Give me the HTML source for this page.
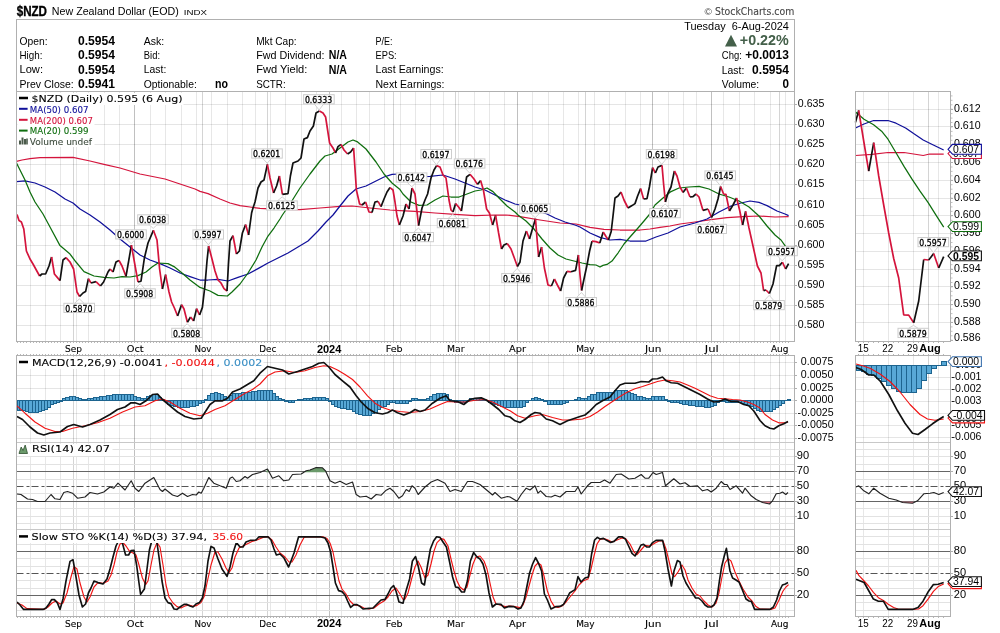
<!DOCTYPE html>
<html lang="en"><head><meta charset="utf-8"><title>$NZD New Zealand Dollar (EOD) - StockCharts.com</title>
<style>html,body{margin:0;padding:0;background:#fff}body{width:1000px;height:633px;overflow:hidden}svg{display:block;will-change:transform}</style></head>
<body>
<svg width="1000" height="633" viewBox="0 0 1000 633" shape-rendering="geometricPrecision">
<rect width="1000" height="633" fill="#fff"/>
<text x="16.70" y="15.60" font-family='"Liberation Sans", Arial, Helvetica, sans-serif' font-size="13.8" font-weight="bold" textLength="30.30" lengthAdjust="spacingAndGlyphs" stroke="#000" stroke-width="0.35">$NZD</text>
<text x="51.80" y="15.00" font-family='"Liberation Sans", Arial, Helvetica, sans-serif' font-size="10.67" textLength="127.00" lengthAdjust="spacingAndGlyphs">New Zealand Dollar (EOD)</text>
<text x="183.80" y="15.00" font-family='"Liberation Sans", Arial, Helvetica, sans-serif' font-size="8" textLength="23.20" lengthAdjust="spacingAndGlyphs">INDX</text>
<text x="704.60" y="14.60" font-family='"Liberation Sans", Arial, Helvetica, sans-serif' font-size="9.5" fill="#444" textLength="7.40" lengthAdjust="spacingAndGlyphs">©</text>
<text x="715.00" y="14.60" font-family='"DejaVu Sans", Verdana, "Liberation Sans", sans-serif' font-size="10" fill="#444" stroke="#444" stroke-width="0.1" textLength="79.30" lengthAdjust="spacingAndGlyphs">StockCharts.com</text>
<rect x="16.5" y="19.5" width="778.0" height="72" fill="#fff" stroke="#b0b0b0"/>
<text x="19.50" y="44.60" font-family='"Liberation Sans", Arial, Helvetica, sans-serif' font-size="10.67" textLength="28.00" lengthAdjust="spacingAndGlyphs">Open:</text>
<text x="78.00" y="44.90" font-family='"Liberation Sans", Arial, Helvetica, sans-serif' font-size="12" font-weight="bold" textLength="37.00" lengthAdjust="spacingAndGlyphs">0.5954</text>
<text x="143.80" y="44.60" font-family='"Liberation Sans", Arial, Helvetica, sans-serif' font-size="10.67" textLength="20.50" lengthAdjust="spacingAndGlyphs">Ask:</text>
<text x="256.20" y="44.60" font-family='"Liberation Sans", Arial, Helvetica, sans-serif' font-size="10.67" textLength="40.50" lengthAdjust="spacingAndGlyphs">Mkt Cap:</text>
<text x="375.50" y="44.60" font-family='"Liberation Sans", Arial, Helvetica, sans-serif' font-size="10.67" textLength="17.00" lengthAdjust="spacingAndGlyphs">P/E:</text>
<text x="19.50" y="58.90" font-family='"Liberation Sans", Arial, Helvetica, sans-serif' font-size="10.67" textLength="23.00" lengthAdjust="spacingAndGlyphs">High:</text>
<text x="78.00" y="59.20" font-family='"Liberation Sans", Arial, Helvetica, sans-serif' font-size="12" font-weight="bold" textLength="37.00" lengthAdjust="spacingAndGlyphs">0.5954</text>
<text x="143.80" y="58.90" font-family='"Liberation Sans", Arial, Helvetica, sans-serif' font-size="10.67" textLength="16.20" lengthAdjust="spacingAndGlyphs">Bid:</text>
<text x="256.20" y="58.90" font-family='"Liberation Sans", Arial, Helvetica, sans-serif' font-size="10.67" textLength="68.20" lengthAdjust="spacingAndGlyphs">Fwd Dividend:</text>
<text x="375.50" y="58.90" font-family='"Liberation Sans", Arial, Helvetica, sans-serif' font-size="10.67" textLength="21.20" lengthAdjust="spacingAndGlyphs">EPS:</text>
<text x="19.50" y="73.20" font-family='"Liberation Sans", Arial, Helvetica, sans-serif' font-size="10.67" textLength="23.50" lengthAdjust="spacingAndGlyphs">Low:</text>
<text x="78.00" y="73.50" font-family='"Liberation Sans", Arial, Helvetica, sans-serif' font-size="12" font-weight="bold" textLength="37.00" lengthAdjust="spacingAndGlyphs">0.5954</text>
<text x="143.80" y="73.20" font-family='"Liberation Sans", Arial, Helvetica, sans-serif' font-size="10.67" textLength="22.50" lengthAdjust="spacingAndGlyphs">Last:</text>
<text x="256.20" y="73.20" font-family='"Liberation Sans", Arial, Helvetica, sans-serif' font-size="10.67" textLength="51.20" lengthAdjust="spacingAndGlyphs">Fwd Yield:</text>
<text x="375.50" y="73.20" font-family='"Liberation Sans", Arial, Helvetica, sans-serif' font-size="10.67" textLength="68.20" lengthAdjust="spacingAndGlyphs">Last Earnings:</text>
<text x="19.50" y="87.50" font-family='"Liberation Sans", Arial, Helvetica, sans-serif' font-size="10.67" textLength="54.20" lengthAdjust="spacingAndGlyphs">Prev Close:</text>
<text x="78.00" y="87.80" font-family='"Liberation Sans", Arial, Helvetica, sans-serif' font-size="12" font-weight="bold" textLength="37.00" lengthAdjust="spacingAndGlyphs">0.5941</text>
<text x="143.80" y="87.50" font-family='"Liberation Sans", Arial, Helvetica, sans-serif' font-size="10.67" textLength="53.00" lengthAdjust="spacingAndGlyphs">Optionable:</text>
<text x="256.20" y="87.50" font-family='"Liberation Sans", Arial, Helvetica, sans-serif' font-size="10.67" textLength="29.50" lengthAdjust="spacingAndGlyphs">SCTR:</text>
<text x="375.50" y="87.50" font-family='"Liberation Sans", Arial, Helvetica, sans-serif' font-size="10.67" textLength="69.00" lengthAdjust="spacingAndGlyphs">Next Earnings:</text>
<text x="215.00" y="87.80" font-family='"Liberation Sans", Arial, Helvetica, sans-serif' font-size="12" font-weight="bold" textLength="13.00" lengthAdjust="spacingAndGlyphs">no</text>
<text x="328.80" y="59.20" font-family='"Liberation Sans", Arial, Helvetica, sans-serif' font-size="12" font-weight="bold" textLength="18.20" lengthAdjust="spacingAndGlyphs">N/A</text>
<text x="328.80" y="73.50" font-family='"Liberation Sans", Arial, Helvetica, sans-serif' font-size="12" font-weight="bold" textLength="18.20" lengthAdjust="spacingAndGlyphs">N/A</text>
<text x="684.20" y="29.60" font-family='"Liberation Sans", Arial, Helvetica, sans-serif' font-size="11" textLength="104.70" lengthAdjust="spacingAndGlyphs" style="white-space:pre">Tuesday  6-Aug-2024</text>
<polygon points="725,46.5 731,34.8 737,46.5" fill="#44604a"/>
<text x="739.80" y="45.20" font-family='"Liberation Sans", Arial, Helvetica, sans-serif' font-size="14.3" font-weight="bold" fill="#44604a" textLength="49.00" lengthAdjust="spacingAndGlyphs">+0.22%</text>
<text x="721.80" y="58.80" font-family='"Liberation Sans", Arial, Helvetica, sans-serif' font-size="10.67" textLength="20.00" lengthAdjust="spacingAndGlyphs">Chg:</text>
<text x="745.30" y="59.00" font-family='"Liberation Sans", Arial, Helvetica, sans-serif' font-size="12" font-weight="bold" textLength="43.60" lengthAdjust="spacingAndGlyphs">+0.0013</text>
<text x="721.80" y="73.50" font-family='"Liberation Sans", Arial, Helvetica, sans-serif' font-size="10.67" textLength="22.50" lengthAdjust="spacingAndGlyphs">Last:</text>
<text x="752.10" y="73.70" font-family='"Liberation Sans", Arial, Helvetica, sans-serif' font-size="12" font-weight="bold" textLength="36.80" lengthAdjust="spacingAndGlyphs">0.5954</text>
<text x="721.80" y="87.50" font-family='"Liberation Sans", Arial, Helvetica, sans-serif' font-size="10.67" textLength="37.40" lengthAdjust="spacingAndGlyphs">Volume:</text>
<text x="782.60" y="87.80" font-family='"Liberation Sans", Arial, Helvetica, sans-serif' font-size="12" font-weight="bold" textLength="6.50" lengthAdjust="spacingAndGlyphs">0</text>
<line x1="30.5" y1="91.5" x2="30.5" y2="341.5" stroke="rgba(0,0,0,0.095)" stroke-width="1"/>
<line x1="45.5" y1="91.5" x2="45.5" y2="341.5" stroke="rgba(0,0,0,0.095)" stroke-width="1"/>
<line x1="60.5" y1="91.5" x2="60.5" y2="341.5" stroke="rgba(0,0,0,0.095)" stroke-width="1"/>
<line x1="76.5" y1="91.5" x2="76.5" y2="341.5" stroke="rgba(0,0,0,0.095)" stroke-width="1"/>
<line x1="88.5" y1="91.5" x2="88.5" y2="341.5" stroke="rgba(0,0,0,0.095)" stroke-width="1"/>
<line x1="104.5" y1="91.5" x2="104.5" y2="341.5" stroke="rgba(0,0,0,0.095)" stroke-width="1"/>
<line x1="119.5" y1="91.5" x2="119.5" y2="341.5" stroke="rgba(0,0,0,0.095)" stroke-width="1"/>
<line x1="134.5" y1="91.5" x2="134.5" y2="341.5" stroke="rgba(0,0,0,0.095)" stroke-width="1"/>
<line x1="150.5" y1="91.5" x2="150.5" y2="341.5" stroke="rgba(0,0,0,0.095)" stroke-width="1"/>
<line x1="165.5" y1="91.5" x2="165.5" y2="341.5" stroke="rgba(0,0,0,0.095)" stroke-width="1"/>
<line x1="181.5" y1="91.5" x2="181.5" y2="341.5" stroke="rgba(0,0,0,0.095)" stroke-width="1"/>
<line x1="196.5" y1="91.5" x2="196.5" y2="341.5" stroke="rgba(0,0,0,0.095)" stroke-width="1"/>
<line x1="211.5" y1="91.5" x2="211.5" y2="341.5" stroke="rgba(0,0,0,0.095)" stroke-width="1"/>
<line x1="227.5" y1="91.5" x2="227.5" y2="341.5" stroke="rgba(0,0,0,0.095)" stroke-width="1"/>
<line x1="242.5" y1="91.5" x2="242.5" y2="341.5" stroke="rgba(0,0,0,0.095)" stroke-width="1"/>
<line x1="255.5" y1="91.5" x2="255.5" y2="341.5" stroke="rgba(0,0,0,0.095)" stroke-width="1"/>
<line x1="270.5" y1="91.5" x2="270.5" y2="341.5" stroke="rgba(0,0,0,0.095)" stroke-width="1"/>
<line x1="285.5" y1="91.5" x2="285.5" y2="341.5" stroke="rgba(0,0,0,0.095)" stroke-width="1"/>
<line x1="301.5" y1="91.5" x2="301.5" y2="341.5" stroke="rgba(0,0,0,0.095)" stroke-width="1"/>
<line x1="316.5" y1="91.5" x2="316.5" y2="341.5" stroke="rgba(0,0,0,0.095)" stroke-width="1"/>
<line x1="329.5" y1="91.5" x2="329.5" y2="341.5" stroke="rgba(0,0,0,0.095)" stroke-width="1"/>
<line x1="341.5" y1="91.5" x2="341.5" y2="341.5" stroke="rgba(0,0,0,0.095)" stroke-width="1"/>
<line x1="356.5" y1="91.5" x2="356.5" y2="341.5" stroke="rgba(0,0,0,0.095)" stroke-width="1"/>
<line x1="369.5" y1="91.5" x2="369.5" y2="341.5" stroke="rgba(0,0,0,0.095)" stroke-width="1"/>
<line x1="384.5" y1="91.5" x2="384.5" y2="341.5" stroke="rgba(0,0,0,0.095)" stroke-width="1"/>
<line x1="400.5" y1="91.5" x2="400.5" y2="341.5" stroke="rgba(0,0,0,0.095)" stroke-width="1"/>
<line x1="415.5" y1="91.5" x2="415.5" y2="341.5" stroke="rgba(0,0,0,0.095)" stroke-width="1"/>
<line x1="430.5" y1="91.5" x2="430.5" y2="341.5" stroke="rgba(0,0,0,0.095)" stroke-width="1"/>
<line x1="443.5" y1="91.5" x2="443.5" y2="341.5" stroke="rgba(0,0,0,0.095)" stroke-width="1"/>
<line x1="458.5" y1="91.5" x2="458.5" y2="341.5" stroke="rgba(0,0,0,0.095)" stroke-width="1"/>
<line x1="474.5" y1="91.5" x2="474.5" y2="341.5" stroke="rgba(0,0,0,0.095)" stroke-width="1"/>
<line x1="489.5" y1="91.5" x2="489.5" y2="341.5" stroke="rgba(0,0,0,0.095)" stroke-width="1"/>
<line x1="504.5" y1="91.5" x2="504.5" y2="341.5" stroke="rgba(0,0,0,0.095)" stroke-width="1"/>
<line x1="517.5" y1="91.5" x2="517.5" y2="341.5" stroke="rgba(0,0,0,0.095)" stroke-width="1"/>
<line x1="532.5" y1="91.5" x2="532.5" y2="341.5" stroke="rgba(0,0,0,0.095)" stroke-width="1"/>
<line x1="548.5" y1="91.5" x2="548.5" y2="341.5" stroke="rgba(0,0,0,0.095)" stroke-width="1"/>
<line x1="563.5" y1="91.5" x2="563.5" y2="341.5" stroke="rgba(0,0,0,0.095)" stroke-width="1"/>
<line x1="578.5" y1="91.5" x2="578.5" y2="341.5" stroke="rgba(0,0,0,0.095)" stroke-width="1"/>
<line x1="594.5" y1="91.5" x2="594.5" y2="341.5" stroke="rgba(0,0,0,0.095)" stroke-width="1"/>
<line x1="609.5" y1="91.5" x2="609.5" y2="341.5" stroke="rgba(0,0,0,0.095)" stroke-width="1"/>
<line x1="625.5" y1="91.5" x2="625.5" y2="341.5" stroke="rgba(0,0,0,0.095)" stroke-width="1"/>
<line x1="640.5" y1="91.5" x2="640.5" y2="341.5" stroke="rgba(0,0,0,0.095)" stroke-width="1"/>
<line x1="652.5" y1="91.5" x2="652.5" y2="341.5" stroke="rgba(0,0,0,0.095)" stroke-width="1"/>
<line x1="668.5" y1="91.5" x2="668.5" y2="341.5" stroke="rgba(0,0,0,0.095)" stroke-width="1"/>
<line x1="683.5" y1="91.5" x2="683.5" y2="341.5" stroke="rgba(0,0,0,0.095)" stroke-width="1"/>
<line x1="696.5" y1="91.5" x2="696.5" y2="341.5" stroke="rgba(0,0,0,0.095)" stroke-width="1"/>
<line x1="711.5" y1="91.5" x2="711.5" y2="341.5" stroke="rgba(0,0,0,0.095)" stroke-width="1"/>
<line x1="723.5" y1="91.5" x2="723.5" y2="341.5" stroke="rgba(0,0,0,0.095)" stroke-width="1"/>
<line x1="739.5" y1="91.5" x2="739.5" y2="341.5" stroke="rgba(0,0,0,0.095)" stroke-width="1"/>
<line x1="754.5" y1="91.5" x2="754.5" y2="341.5" stroke="rgba(0,0,0,0.095)" stroke-width="1"/>
<line x1="770.5" y1="91.5" x2="770.5" y2="341.5" stroke="rgba(0,0,0,0.095)" stroke-width="1"/>
<line x1="785.5" y1="91.5" x2="785.5" y2="341.5" stroke="rgba(0,0,0,0.095)" stroke-width="1"/>
<line x1="73.5" y1="91.5" x2="73.5" y2="341.5" stroke="rgba(0,0,0,0.17)" stroke-width="1"/>
<line x1="134.5" y1="91.5" x2="134.5" y2="341.5" stroke="rgba(0,0,0,0.17)" stroke-width="1"/>
<line x1="202.5" y1="91.5" x2="202.5" y2="341.5" stroke="rgba(0,0,0,0.17)" stroke-width="1"/>
<line x1="267.5" y1="91.5" x2="267.5" y2="341.5" stroke="rgba(0,0,0,0.17)" stroke-width="1"/>
<line x1="329.5" y1="91.5" x2="329.5" y2="341.5" stroke="rgba(0,0,0,0.17)" stroke-width="1"/>
<line x1="393.5" y1="91.5" x2="393.5" y2="341.5" stroke="rgba(0,0,0,0.17)" stroke-width="1"/>
<line x1="455.5" y1="91.5" x2="455.5" y2="341.5" stroke="rgba(0,0,0,0.17)" stroke-width="1"/>
<line x1="517.5" y1="91.5" x2="517.5" y2="341.5" stroke="rgba(0,0,0,0.17)" stroke-width="1"/>
<line x1="585.5" y1="91.5" x2="585.5" y2="341.5" stroke="rgba(0,0,0,0.17)" stroke-width="1"/>
<line x1="652.5" y1="91.5" x2="652.5" y2="341.5" stroke="rgba(0,0,0,0.17)" stroke-width="1"/>
<line x1="711.5" y1="91.5" x2="711.5" y2="341.5" stroke="rgba(0,0,0,0.17)" stroke-width="1"/>
<line x1="779.5" y1="91.5" x2="779.5" y2="341.5" stroke="rgba(0,0,0,0.17)" stroke-width="1"/>
<line x1="16.5" y1="104.5" x2="794.5" y2="104.5" stroke="rgba(0,0,0,0.1)" stroke-width="1"/>
<line x1="16.5" y1="124.5" x2="794.5" y2="124.5" stroke="rgba(0,0,0,0.1)" stroke-width="1"/>
<line x1="16.5" y1="144.5" x2="794.5" y2="144.5" stroke="rgba(0,0,0,0.1)" stroke-width="1"/>
<line x1="16.5" y1="164.5" x2="794.5" y2="164.5" stroke="rgba(0,0,0,0.1)" stroke-width="1"/>
<line x1="16.5" y1="184.5" x2="794.5" y2="184.5" stroke="rgba(0,0,0,0.1)" stroke-width="1"/>
<line x1="16.5" y1="205.5" x2="794.5" y2="205.5" stroke="rgba(0,0,0,0.1)" stroke-width="1"/>
<line x1="16.5" y1="225.5" x2="794.5" y2="225.5" stroke="rgba(0,0,0,0.1)" stroke-width="1"/>
<line x1="16.5" y1="245.5" x2="794.5" y2="245.5" stroke="rgba(0,0,0,0.1)" stroke-width="1"/>
<line x1="16.5" y1="265.5" x2="794.5" y2="265.5" stroke="rgba(0,0,0,0.1)" stroke-width="1"/>
<line x1="16.5" y1="285.5" x2="794.5" y2="285.5" stroke="rgba(0,0,0,0.1)" stroke-width="1"/>
<line x1="16.5" y1="305.5" x2="794.5" y2="305.5" stroke="rgba(0,0,0,0.1)" stroke-width="1"/>
<line x1="16.5" y1="325.5" x2="794.5" y2="325.5" stroke="rgba(0,0,0,0.1)" stroke-width="1"/>
<rect x="17.5" y="93" width="166" height="12" fill="#fff"/>
<rect x="17.5" y="104" width="77" height="43" fill="#fff"/>
<polyline points="16.5,161.4 22.0,160.0 30.0,158.6 40.0,157.6 73.0,157.4 90.0,161.0 105.0,164.6 120.0,168.0 140.0,174.0 150.0,176.0 165.0,179.0 180.0,184.0 195.0,189.0 200.0,191.4 208.0,193.6 220.0,199.0 230.0,203.0 240.0,205.6 250.0,207.0 260.0,208.4 280.0,209.4 300.0,209.6 320.0,208.0 340.0,206.4 352.0,206.0 370.0,208.0 390.0,210.0 400.0,210.6 415.0,211.4 435.0,213.0 455.0,214.4 475.0,215.6 495.0,215.0 506.0,215.0 520.0,216.6 540.0,220.0 560.0,223.0 576.0,224.0 590.0,227.4 604.0,229.4 620.0,230.0 640.0,230.0 650.0,229.0 660.0,227.4 670.0,226.0 680.0,224.0 695.0,222.0 711.0,219.6 727.0,217.6 743.0,216.6 759.0,216.0 775.0,217.0 788.6,216.6" fill="none" stroke="#d4143c" stroke-width="1.25" stroke-linejoin="round"/>
<polyline points="16.5,181.6 25.0,180.8 35.0,183.0 45.0,187.0 55.0,192.0 65.0,199.0 73.0,203.0 80.0,209.0 90.0,215.0 100.0,222.0 110.0,230.0 120.0,239.0 130.0,247.0 140.0,255.0 150.0,260.0 160.0,263.6 170.0,268.0 180.0,273.0 190.0,276.6 200.0,280.0 208.0,280.0 218.0,279.4 228.0,281.0 238.0,277.4 248.0,274.0 258.0,268.6 268.0,263.0 278.0,258.0 288.0,253.0 298.0,247.0 308.0,241.0 318.0,231.0 326.0,222.0 333.0,215.0 340.0,206.0 348.0,196.0 356.0,189.0 366.0,186.0 376.0,181.0 384.0,177.0 392.0,174.4 400.0,174.0 415.0,177.0 430.0,176.4 443.0,175.0 455.0,179.0 465.0,183.0 475.0,187.0 485.0,190.0 495.0,195.0 505.0,200.0 515.0,204.0 520.0,205.0 535.0,210.0 547.0,214.0 555.0,218.0 565.0,222.0 575.0,225.0 580.0,227.0 590.0,233.0 600.0,237.4 610.0,240.0 620.0,239.4 630.0,241.0 646.0,241.0 656.0,237.0 668.0,233.0 680.0,227.0 695.0,223.0 707.0,219.0 719.0,212.0 731.0,206.0 741.0,203.0 750.0,201.0 759.0,202.4 767.0,205.6 777.0,211.0 785.0,214.0 788.6,215.6" fill="none" stroke="#10109a" stroke-width="1.25" stroke-linejoin="round"/>
<polyline points="16.5,163.0 20.0,170.0 25.0,180.0 30.0,192.0 35.0,202.0 40.0,209.5 43.0,214.0 50.0,227.0 60.0,245.6 70.0,254.0 76.0,262.0 84.0,271.6 94.0,276.0 104.0,277.4 114.0,278.0 122.0,276.6 130.0,277.0 138.0,275.6 146.0,272.0 152.0,267.0 158.0,263.0 168.0,263.6 174.0,266.6 182.0,273.0 190.0,280.0 200.0,287.4 210.0,291.0 218.0,295.4 227.4,296.0 232.0,292.0 240.0,284.0 248.0,273.0 256.0,260.0 262.0,247.0 268.0,236.0 274.0,228.0 280.0,219.0 282.4,215.0 290.0,204.0 300.0,188.0 310.0,174.0 320.0,161.0 325.0,156.0 332.0,154.0 340.0,148.0 348.0,142.0 353.0,140.0 357.0,141.6 366.0,149.0 376.0,162.0 384.0,174.0 392.0,183.0 400.0,189.6 403.0,194.0 411.0,202.0 419.0,205.4 427.0,205.0 435.0,200.0 443.0,196.0 451.0,197.0 459.0,197.0 467.0,194.0 475.0,191.0 481.0,190.0 487.0,188.0 493.0,191.6 499.0,198.0 507.0,206.0 515.0,212.0 518.0,215.0 526.0,221.0 534.0,229.0 542.0,239.0 550.0,248.0 558.0,255.0 566.0,259.0 574.0,261.0 582.0,263.0 590.0,264.6 596.0,265.0 600.0,267.0 603.0,265.4 607.0,264.4 612.0,261.0 618.0,253.0 624.0,244.0 630.0,237.0 638.0,228.0 644.0,221.0 649.0,215.0 655.0,205.0 663.0,198.0 671.0,191.6 679.0,188.0 689.0,187.0 699.0,186.4 709.0,189.0 719.0,194.0 729.0,197.0 739.0,201.0 749.0,207.0 759.0,216.0 767.0,226.0 775.0,235.0 781.0,240.0 785.0,245.6 788.6,249.0" fill="none" stroke="#0e6e0e" stroke-width="1.25" stroke-linejoin="round"/>
<polyline points="17.0,214.6 19.0,220.6 21.4,222.0 23.8,229.0 26.4,251.0 30.0,259.0 33.0,264.0 39.6,276.0" fill="none" stroke="#d4143c" stroke-width="1.7" stroke-linejoin="bevel" stroke-linecap="butt"/>
<polyline points="39.6,276.0 42.0,274.0 45.6,274.0 49.0,266.0 51.6,257.0" fill="none" stroke="#111" stroke-width="1.7" stroke-linejoin="bevel" stroke-linecap="butt"/>
<polyline points="51.6,257.0 54.4,274.0 60.0,280.6" fill="none" stroke="#d4143c" stroke-width="1.7" stroke-linejoin="bevel" stroke-linecap="butt"/>
<polyline points="60.0,280.6 63.0,260.0 66.0,257.6" fill="none" stroke="#111" stroke-width="1.7" stroke-linejoin="bevel" stroke-linecap="butt"/>
<polyline points="66.0,257.6 70.0,262.0 73.6,269.0 77.0,292.0 79.6,296.5" fill="none" stroke="#d4143c" stroke-width="1.7" stroke-linejoin="bevel" stroke-linecap="butt"/>
<polyline points="79.6,296.5 83.0,293.0 85.6,291.6 88.4,278.6" fill="none" stroke="#111" stroke-width="1.7" stroke-linejoin="bevel" stroke-linecap="butt"/>
<polyline points="88.4,278.6 91.0,283.0" fill="none" stroke="#d4143c" stroke-width="1.7" stroke-linejoin="bevel" stroke-linecap="butt"/>
<polyline points="91.0,283.0 96.0,281.6" fill="none" stroke="#111" stroke-width="1.7" stroke-linejoin="bevel" stroke-linecap="butt"/>
<polyline points="96.0,281.6 100.4,286.0" fill="none" stroke="#d4143c" stroke-width="1.7" stroke-linejoin="bevel" stroke-linecap="butt"/>
<polyline points="100.4,286.0 103.6,282.0 108.0,272.0 110.0,269.0" fill="none" stroke="#111" stroke-width="1.7" stroke-linejoin="bevel" stroke-linecap="butt"/>
<polyline points="110.0,269.0 113.0,272.0" fill="none" stroke="#d4143c" stroke-width="1.7" stroke-linejoin="bevel" stroke-linecap="butt"/>
<polyline points="113.0,272.0 116.0,262.0 119.0,260.4" fill="none" stroke="#111" stroke-width="1.7" stroke-linejoin="bevel" stroke-linecap="butt"/>
<polyline points="119.0,260.4 122.0,266.0 126.0,276.4" fill="none" stroke="#d4143c" stroke-width="1.7" stroke-linejoin="bevel" stroke-linecap="butt"/>
<polyline points="126.0,276.4 131.4,245.2" fill="none" stroke="#111" stroke-width="1.7" stroke-linejoin="bevel" stroke-linecap="butt"/>
<polyline points="131.4,245.2 134.4,262.0 138.0,282.0" fill="none" stroke="#d4143c" stroke-width="1.7" stroke-linejoin="bevel" stroke-linecap="butt"/>
<polyline points="138.0,282.0 141.0,281.2 144.4,258.0 148.0,243.0 153.4,230.3" fill="none" stroke="#111" stroke-width="1.7" stroke-linejoin="bevel" stroke-linecap="butt"/>
<polyline points="153.4,230.3 157.0,240.0 159.6,269.0 162.4,289.0" fill="none" stroke="#d4143c" stroke-width="1.7" stroke-linejoin="bevel" stroke-linecap="butt"/>
<polyline points="162.4,289.0 165.6,274.6" fill="none" stroke="#111" stroke-width="1.7" stroke-linejoin="bevel" stroke-linecap="butt"/>
<polyline points="165.6,274.6 169.0,292.0 171.6,302.0 174.4,308.0 177.6,316.0" fill="none" stroke="#d4143c" stroke-width="1.7" stroke-linejoin="bevel" stroke-linecap="butt"/>
<polyline points="177.6,316.0 181.6,304.6" fill="none" stroke="#111" stroke-width="1.7" stroke-linejoin="bevel" stroke-linecap="butt"/>
<polyline points="181.6,304.6 184.0,309.0 187.4,322.3" fill="none" stroke="#d4143c" stroke-width="1.7" stroke-linejoin="bevel" stroke-linecap="butt"/>
<polyline points="187.4,322.3 190.6,317.0" fill="none" stroke="#111" stroke-width="1.7" stroke-linejoin="bevel" stroke-linecap="butt"/>
<polyline points="190.6,317.0 193.6,321.0" fill="none" stroke="#d4143c" stroke-width="1.7" stroke-linejoin="bevel" stroke-linecap="butt"/>
<polyline points="193.6,321.0 196.6,308.6" fill="none" stroke="#111" stroke-width="1.7" stroke-linejoin="bevel" stroke-linecap="butt"/>
<polyline points="196.6,308.6 199.6,315.0" fill="none" stroke="#d4143c" stroke-width="1.7" stroke-linejoin="bevel" stroke-linecap="butt"/>
<polyline points="199.6,315.0 202.4,307.4 205.0,285.0 207.0,261.0 208.6,246.0" fill="none" stroke="#111" stroke-width="1.7" stroke-linejoin="bevel" stroke-linecap="butt"/>
<polyline points="208.6,246.0 212.0,259.0 215.0,271.0 218.0,280.0 221.0,283.0 224.0,288.6 227.0,291.0" fill="none" stroke="#d4143c" stroke-width="1.7" stroke-linejoin="bevel" stroke-linecap="butt"/>
<polyline points="227.0,291.0 228.4,265.0 230.0,241.0 233.0,235.6" fill="none" stroke="#111" stroke-width="1.7" stroke-linejoin="bevel" stroke-linecap="butt"/>
<polyline points="233.0,235.6 236.4,254.0" fill="none" stroke="#d4143c" stroke-width="1.7" stroke-linejoin="bevel" stroke-linecap="butt"/>
<polyline points="236.4,254.0 239.4,251.0 242.4,233.0 245.6,224.6" fill="none" stroke="#111" stroke-width="1.7" stroke-linejoin="bevel" stroke-linecap="butt"/>
<polyline points="245.6,224.6 248.6,235.0" fill="none" stroke="#d4143c" stroke-width="1.7" stroke-linejoin="bevel" stroke-linecap="butt"/>
<polyline points="248.6,235.0 251.6,213.0 252.4,210.0 255.0,202.0 258.0,188.0 261.0,182.0 264.0,180.0 267.4,164.4" fill="none" stroke="#111" stroke-width="1.7" stroke-linejoin="bevel" stroke-linecap="butt"/>
<polyline points="267.4,164.4 270.0,178.0 273.6,193.0" fill="none" stroke="#d4143c" stroke-width="1.7" stroke-linejoin="bevel" stroke-linecap="butt"/>
<polyline points="273.6,193.0 276.6,186.0 279.4,176.0" fill="none" stroke="#111" stroke-width="1.7" stroke-linejoin="bevel" stroke-linecap="butt"/>
<polyline points="279.4,176.0 282.4,194.3" fill="none" stroke="#d4143c" stroke-width="1.7" stroke-linejoin="bevel" stroke-linecap="butt"/>
<polyline points="282.4,194.3 288.0,193.6 290.4,176.0 293.0,163.0 298.0,161.0 301.0,158.0 304.0,139.0 307.4,137.6 310.0,131.0 313.4,126.0 316.0,113.0 319.4,111.0" fill="none" stroke="#111" stroke-width="1.7" stroke-linejoin="bevel" stroke-linecap="butt"/>
<polyline points="319.4,111.0 323.0,113.0 325.6,117.0 329.6,143.0 333.0,148.0 335.6,153.0" fill="none" stroke="#d4143c" stroke-width="1.7" stroke-linejoin="bevel" stroke-linecap="butt"/>
<polyline points="335.6,153.0 338.0,146.6 341.0,144.4" fill="none" stroke="#111" stroke-width="1.7" stroke-linejoin="bevel" stroke-linecap="butt"/>
<polyline points="341.0,144.4 344.0,150.0 347.6,154.0" fill="none" stroke="#d4143c" stroke-width="1.7" stroke-linejoin="bevel" stroke-linecap="butt"/>
<polyline points="347.6,154.0 350.6,152.0 353.6,148.0" fill="none" stroke="#111" stroke-width="1.7" stroke-linejoin="bevel" stroke-linecap="butt"/>
<polyline points="353.6,148.0 356.4,190.0 359.6,204.0 362.0,205.0" fill="none" stroke="#d4143c" stroke-width="1.7" stroke-linejoin="bevel" stroke-linecap="butt"/>
<polyline points="362.0,205.0 365.6,202.0" fill="none" stroke="#111" stroke-width="1.7" stroke-linejoin="bevel" stroke-linecap="butt"/>
<polyline points="365.6,202.0 369.0,212.0 372.0,212.4" fill="none" stroke="#d4143c" stroke-width="1.7" stroke-linejoin="bevel" stroke-linecap="butt"/>
<polyline points="372.0,212.4 375.0,202.0 378.0,201.4" fill="none" stroke="#111" stroke-width="1.7" stroke-linejoin="bevel" stroke-linecap="butt"/>
<polyline points="378.0,201.4 381.0,206.6" fill="none" stroke="#d4143c" stroke-width="1.7" stroke-linejoin="bevel" stroke-linecap="butt"/>
<polyline points="381.0,206.6 384.0,199.0 387.0,192.0 390.0,187.6" fill="none" stroke="#111" stroke-width="1.7" stroke-linejoin="bevel" stroke-linecap="butt"/>
<polyline points="390.0,187.6 393.0,190.0 395.0,202.0 397.0,216.0 399.4,225.0" fill="none" stroke="#d4143c" stroke-width="1.7" stroke-linejoin="bevel" stroke-linecap="butt"/>
<polyline points="399.4,225.0 403.0,216.0 406.0,204.0" fill="none" stroke="#111" stroke-width="1.7" stroke-linejoin="bevel" stroke-linecap="butt"/>
<polyline points="406.0,204.0 409.0,209.0" fill="none" stroke="#d4143c" stroke-width="1.7" stroke-linejoin="bevel" stroke-linecap="butt"/>
<polyline points="409.0,209.0 412.0,188.0" fill="none" stroke="#111" stroke-width="1.7" stroke-linejoin="bevel" stroke-linecap="butt"/>
<polyline points="412.0,188.0 415.0,194.0 418.6,225.7" fill="none" stroke="#d4143c" stroke-width="1.7" stroke-linejoin="bevel" stroke-linecap="butt"/>
<polyline points="418.6,225.7 422.0,208.0 425.0,200.0 427.6,194.0 431.0,178.0 434.0,170.0 436.6,165.6" fill="none" stroke="#111" stroke-width="1.7" stroke-linejoin="bevel" stroke-linecap="butt"/>
<polyline points="436.6,165.6 440.0,167.0 443.0,175.0 446.0,178.0 449.0,200.0 451.0,210.0 453.0,212.0" fill="none" stroke="#d4143c" stroke-width="1.7" stroke-linejoin="bevel" stroke-linecap="butt"/>
<polyline points="453.0,212.0 455.6,203.6" fill="none" stroke="#111" stroke-width="1.7" stroke-linejoin="bevel" stroke-linecap="butt"/>
<polyline points="455.6,203.6 458.6,207.0 461.4,211.0" fill="none" stroke="#d4143c" stroke-width="1.7" stroke-linejoin="bevel" stroke-linecap="butt"/>
<polyline points="461.4,211.0 464.0,194.0 466.6,177.0 470.0,174.3" fill="none" stroke="#111" stroke-width="1.7" stroke-linejoin="bevel" stroke-linecap="butt"/>
<polyline points="470.0,174.3 474.0,179.0 477.4,184.4" fill="none" stroke="#d4143c" stroke-width="1.7" stroke-linejoin="bevel" stroke-linecap="butt"/>
<polyline points="477.4,184.4 480.6,180.6" fill="none" stroke="#111" stroke-width="1.7" stroke-linejoin="bevel" stroke-linecap="butt"/>
<polyline points="480.6,180.6 483.4,190.0 486.6,209.0 489.4,213.0 492.6,225.0" fill="none" stroke="#d4143c" stroke-width="1.7" stroke-linejoin="bevel" stroke-linecap="butt"/>
<polyline points="492.6,225.0 495.6,215.5" fill="none" stroke="#111" stroke-width="1.7" stroke-linejoin="bevel" stroke-linecap="butt"/>
<polyline points="495.6,215.5 498.6,233.0 501.5,249.0" fill="none" stroke="#d4143c" stroke-width="1.7" stroke-linejoin="bevel" stroke-linecap="butt"/>
<polyline points="501.5,249.0 504.0,245.0 507.2,243.4" fill="none" stroke="#111" stroke-width="1.7" stroke-linejoin="bevel" stroke-linecap="butt"/>
<polyline points="507.2,243.4 511.0,249.0 514.7,259.0 517.4,266.5" fill="none" stroke="#d4143c" stroke-width="1.7" stroke-linejoin="bevel" stroke-linecap="butt"/>
<polyline points="517.4,266.5 520.0,262.0 523.0,241.0 526.4,231.0" fill="none" stroke="#111" stroke-width="1.7" stroke-linejoin="bevel" stroke-linecap="butt"/>
<polyline points="526.4,231.0 529.5,239.0" fill="none" stroke="#d4143c" stroke-width="1.7" stroke-linejoin="bevel" stroke-linecap="butt"/>
<polyline points="529.5,239.0 532.7,228.0 535.5,218.8" fill="none" stroke="#111" stroke-width="1.7" stroke-linejoin="bevel" stroke-linecap="butt"/>
<polyline points="535.5,218.8 537.2,241.0 538.6,257.0" fill="none" stroke="#d4143c" stroke-width="1.7" stroke-linejoin="bevel" stroke-linecap="butt"/>
<polyline points="538.6,257.0 541.6,247.0" fill="none" stroke="#111" stroke-width="1.7" stroke-linejoin="bevel" stroke-linecap="butt"/>
<polyline points="541.6,247.0 544.4,268.0 548.0,285.0 551.4,286.0" fill="none" stroke="#d4143c" stroke-width="1.7" stroke-linejoin="bevel" stroke-linecap="butt"/>
<polyline points="551.4,286.0 554.4,279.0" fill="none" stroke="#111" stroke-width="1.7" stroke-linejoin="bevel" stroke-linecap="butt"/>
<polyline points="554.4,279.0 557.4,285.0 560.6,291.0" fill="none" stroke="#d4143c" stroke-width="1.7" stroke-linejoin="bevel" stroke-linecap="butt"/>
<polyline points="560.6,291.0 563.6,278.0 567.0,271.4" fill="none" stroke="#111" stroke-width="1.7" stroke-linejoin="bevel" stroke-linecap="butt"/>
<polyline points="567.0,271.4 571.0,271.8" fill="none" stroke="#d4143c" stroke-width="1.7" stroke-linejoin="bevel" stroke-linecap="butt"/>
<polyline points="571.0,271.8 575.6,270.4 578.4,255.0" fill="none" stroke="#111" stroke-width="1.7" stroke-linejoin="bevel" stroke-linecap="butt"/>
<polyline points="578.4,255.0 580.0,275.0 581.6,290.5" fill="none" stroke="#d4143c" stroke-width="1.7" stroke-linejoin="bevel" stroke-linecap="butt"/>
<polyline points="581.6,290.5 584.0,279.0 587.0,265.0 589.6,251.0 592.0,241.2" fill="none" stroke="#111" stroke-width="1.7" stroke-linejoin="bevel" stroke-linecap="butt"/>
<polyline points="592.0,241.2 596.0,241.6 599.8,243.0" fill="none" stroke="#d4143c" stroke-width="1.7" stroke-linejoin="bevel" stroke-linecap="butt"/>
<polyline points="599.8,243.0 603.2,232.0" fill="none" stroke="#111" stroke-width="1.7" stroke-linejoin="bevel" stroke-linecap="butt"/>
<polyline points="603.2,232.0 606.0,236.5 608.4,240.0" fill="none" stroke="#d4143c" stroke-width="1.7" stroke-linejoin="bevel" stroke-linecap="butt"/>
<polyline points="608.4,240.0 611.2,231.5 613.0,216.0 615.0,198.0 618.0,196.0 621.0,192.0" fill="none" stroke="#111" stroke-width="1.7" stroke-linejoin="bevel" stroke-linecap="butt"/>
<polyline points="621.0,192.0 624.0,200.0 628.0,208.0" fill="none" stroke="#d4143c" stroke-width="1.7" stroke-linejoin="bevel" stroke-linecap="butt"/>
<polyline points="628.0,208.0 632.0,205.6 635.0,203.6 637.6,196.0 640.6,188.6" fill="none" stroke="#111" stroke-width="1.7" stroke-linejoin="bevel" stroke-linecap="butt"/>
<polyline points="640.6,188.6 643.6,199.0" fill="none" stroke="#d4143c" stroke-width="1.7" stroke-linejoin="bevel" stroke-linecap="butt"/>
<polyline points="643.6,199.0 647.0,198.6 649.4,187.0 652.6,167.6" fill="none" stroke="#111" stroke-width="1.7" stroke-linejoin="bevel" stroke-linecap="butt"/>
<polyline points="652.6,167.6 655.4,173.0" fill="none" stroke="#d4143c" stroke-width="1.7" stroke-linejoin="bevel" stroke-linecap="butt"/>
<polyline points="655.4,173.0 658.0,167.0 662.0,165.4" fill="none" stroke="#111" stroke-width="1.7" stroke-linejoin="bevel" stroke-linecap="butt"/>
<polyline points="662.0,165.4 663.6,184.0 665.4,202.0" fill="none" stroke="#d4143c" stroke-width="1.7" stroke-linejoin="bevel" stroke-linecap="butt"/>
<polyline points="665.4,202.0 668.0,193.0 671.0,187.0 674.4,171.0" fill="none" stroke="#111" stroke-width="1.7" stroke-linejoin="bevel" stroke-linecap="butt"/>
<polyline points="674.4,171.0 677.0,176.0 680.0,187.0 683.0,192.4" fill="none" stroke="#d4143c" stroke-width="1.7" stroke-linejoin="bevel" stroke-linecap="butt"/>
<polyline points="683.0,192.4 686.4,188.0" fill="none" stroke="#111" stroke-width="1.7" stroke-linejoin="bevel" stroke-linecap="butt"/>
<polyline points="686.4,188.0 690.0,197.0" fill="none" stroke="#d4143c" stroke-width="1.7" stroke-linejoin="bevel" stroke-linecap="butt"/>
<polyline points="690.0,197.0 693.0,196.6 696.0,194.0" fill="none" stroke="#111" stroke-width="1.7" stroke-linejoin="bevel" stroke-linecap="butt"/>
<polyline points="696.0,194.0 699.0,197.0 703.0,210.4" fill="none" stroke="#d4143c" stroke-width="1.7" stroke-linejoin="bevel" stroke-linecap="butt"/>
<polyline points="703.0,210.4 708.0,209.0" fill="none" stroke="#111" stroke-width="1.7" stroke-linejoin="bevel" stroke-linecap="butt"/>
<polyline points="708.0,209.0 711.6,217.5" fill="none" stroke="#d4143c" stroke-width="1.7" stroke-linejoin="bevel" stroke-linecap="butt"/>
<polyline points="711.6,217.5 715.0,209.0 718.0,199.0 720.6,186.5" fill="none" stroke="#111" stroke-width="1.7" stroke-linejoin="bevel" stroke-linecap="butt"/>
<polyline points="720.6,186.5 723.6,194.0 726.0,194.4 729.4,211.0" fill="none" stroke="#d4143c" stroke-width="1.7" stroke-linejoin="bevel" stroke-linecap="butt"/>
<polyline points="729.4,211.0 733.0,205.0 736.6,198.0" fill="none" stroke="#111" stroke-width="1.7" stroke-linejoin="bevel" stroke-linecap="butt"/>
<polyline points="736.6,198.0 739.6,210.0 742.6,225.0" fill="none" stroke="#d4143c" stroke-width="1.7" stroke-linejoin="bevel" stroke-linecap="butt"/>
<polyline points="742.6,225.0 745.6,211.4" fill="none" stroke="#111" stroke-width="1.7" stroke-linejoin="bevel" stroke-linecap="butt"/>
<polyline points="745.6,211.4 749.0,228.0 753.0,246.0 757.4,266.0 761.0,273.0 763.6,290.6" fill="none" stroke="#d4143c" stroke-width="1.7" stroke-linejoin="bevel" stroke-linecap="butt"/>
<polyline points="763.6,290.6 766.0,290.0" fill="none" stroke="#111" stroke-width="1.7" stroke-linejoin="bevel" stroke-linecap="butt"/>
<polyline points="766.0,290.0 769.4,293.5" fill="none" stroke="#d4143c" stroke-width="1.7" stroke-linejoin="bevel" stroke-linecap="butt"/>
<polyline points="769.4,293.5 773.0,284.0 776.6,265.6 779.4,265.6 782.4,262.2" fill="none" stroke="#111" stroke-width="1.7" stroke-linejoin="bevel" stroke-linecap="butt"/>
<polyline points="782.4,262.2 785.6,269.0" fill="none" stroke="#d4143c" stroke-width="1.7" stroke-linejoin="bevel" stroke-linecap="butt"/>
<polyline points="785.6,269.0 788.6,263.6" fill="none" stroke="#111" stroke-width="1.7" stroke-linejoin="bevel" stroke-linecap="butt"/>
<path d="M126.4,239.0L131.20000000000002,243.6L135.8,239.0" fill="#fff" stroke="#d2d2d2" stroke-width="1"/>
<rect x="115.7" y="229.8" width="30.6" height="9.2" fill="#fff" stroke="#cdcdcd" stroke-width="1"/>
<text x="117.00" y="238.00" font-family='"DejaVu Sans Condensed", "DejaVu Sans", Tahoma, sans-serif' font-size="9.5" textLength="27.30" lengthAdjust="spacingAndGlyphs" stroke="#000" stroke-width="0.3">0.6000</text>
<path d="M148.4,224.0L153.20000000000002,228.4L157.8,224.0" fill="#fff" stroke="#d2d2d2" stroke-width="1"/>
<rect x="137.7" y="214.8" width="30.6" height="9.2" fill="#fff" stroke="#cdcdcd" stroke-width="1"/>
<text x="139.00" y="223.00" font-family='"DejaVu Sans Condensed", "DejaVu Sans", Tahoma, sans-serif' font-size="9.5" textLength="27.30" lengthAdjust="spacingAndGlyphs" stroke="#000" stroke-width="0.3">0.6038</text>
<path d="M135.4,288.79999999999995L140.20000000000002,283.7L144.8,288.79999999999995" fill="#fff" stroke="#d2d2d2" stroke-width="1"/>
<rect x="124.7" y="288.8" width="30.6" height="9.2" fill="#fff" stroke="#cdcdcd" stroke-width="1"/>
<text x="126.00" y="297.00" font-family='"DejaVu Sans Condensed", "DejaVu Sans", Tahoma, sans-serif' font-size="9.5" textLength="27.30" lengthAdjust="spacingAndGlyphs" stroke="#000" stroke-width="0.3">0.5908</text>
<path d="M74.6,303.29999999999995L79.39999999999999,298.9L84.0,303.29999999999995" fill="#fff" stroke="#d2d2d2" stroke-width="1"/>
<rect x="63.9" y="303.3" width="30.6" height="9.2" fill="#fff" stroke="#cdcdcd" stroke-width="1"/>
<text x="65.20" y="311.50" font-family='"DejaVu Sans Condensed", "DejaVu Sans", Tahoma, sans-serif' font-size="9.5" textLength="27.30" lengthAdjust="spacingAndGlyphs" stroke="#000" stroke-width="0.3">0.5870</text>
<path d="M182.4,328.29999999999995L187.20000000000002,323.7L191.8,328.29999999999995" fill="#fff" stroke="#d2d2d2" stroke-width="1"/>
<rect x="171.7" y="328.3" width="30.6" height="9.2" fill="#fff" stroke="#cdcdcd" stroke-width="1"/>
<text x="173.00" y="336.50" font-family='"DejaVu Sans Condensed", "DejaVu Sans", Tahoma, sans-serif' font-size="9.5" textLength="27.30" lengthAdjust="spacingAndGlyphs" stroke="#000" stroke-width="0.3">0.5808</text>
<path d="M203.6,239.1L208.4,244.79999999999998L213.0,239.1" fill="#fff" stroke="#d2d2d2" stroke-width="1"/>
<rect x="192.9" y="229.9" width="30.6" height="9.2" fill="#fff" stroke="#cdcdcd" stroke-width="1"/>
<text x="194.20" y="238.10" font-family='"DejaVu Sans Condensed", "DejaVu Sans", Tahoma, sans-serif' font-size="9.5" textLength="27.30" lengthAdjust="spacingAndGlyphs" stroke="#000" stroke-width="0.3">0.5997</text>
<path d="M262.4,158.1L267.2,163.2L271.79999999999995,158.1" fill="#fff" stroke="#d2d2d2" stroke-width="1"/>
<rect x="251.7" y="148.9" width="30.6" height="9.2" fill="#fff" stroke="#cdcdcd" stroke-width="1"/>
<text x="253.00" y="157.10" font-family='"DejaVu Sans Condensed", "DejaVu Sans", Tahoma, sans-serif' font-size="9.5" textLength="27.30" lengthAdjust="spacingAndGlyphs" stroke="#000" stroke-width="0.3">0.6201</text>
<path d="M314.3,103.9L319.1,110.0L323.7,103.9" fill="#fff" stroke="#d2d2d2" stroke-width="1"/>
<rect x="303.6" y="94.7" width="30.6" height="9.2" fill="#fff" stroke="#cdcdcd" stroke-width="1"/>
<text x="304.90" y="102.90" font-family='"DejaVu Sans Condensed", "DejaVu Sans", Tahoma, sans-serif' font-size="9.5" textLength="27.30" lengthAdjust="spacingAndGlyphs" stroke="#000" stroke-width="0.3">0.6333</text>
<path d="M277.4,200.9L282.2,196.9L286.79999999999995,200.9" fill="#fff" stroke="#d2d2d2" stroke-width="1"/>
<rect x="266.7" y="200.9" width="30.6" height="9.2" fill="#fff" stroke="#cdcdcd" stroke-width="1"/>
<text x="268.00" y="209.10" font-family='"DejaVu Sans Condensed", "DejaVu Sans", Tahoma, sans-serif' font-size="9.5" textLength="27.30" lengthAdjust="spacingAndGlyphs" stroke="#000" stroke-width="0.3">0.6125</text>
<path d="M407.0,182.1L411.8,186.79999999999998L416.4,182.1" fill="#fff" stroke="#d2d2d2" stroke-width="1"/>
<rect x="396.3" y="172.9" width="30.6" height="9.2" fill="#fff" stroke="#cdcdcd" stroke-width="1"/>
<text x="397.60" y="181.10" font-family='"DejaVu Sans Condensed", "DejaVu Sans", Tahoma, sans-serif' font-size="9.5" textLength="27.30" lengthAdjust="spacingAndGlyphs" stroke="#000" stroke-width="0.3">0.6142</text>
<path d="M431.6,158.7L436.40000000000003,164.79999999999998L441.0,158.7" fill="#fff" stroke="#d2d2d2" stroke-width="1"/>
<rect x="420.9" y="149.5" width="30.6" height="9.2" fill="#fff" stroke="#cdcdcd" stroke-width="1"/>
<text x="422.20" y="157.70" font-family='"DejaVu Sans Condensed", "DejaVu Sans", Tahoma, sans-serif' font-size="9.5" textLength="27.30" lengthAdjust="spacingAndGlyphs" stroke="#000" stroke-width="0.3">0.6197</text>
<path d="M465.0,168.1L469.8,173.2L474.4,168.1" fill="#fff" stroke="#d2d2d2" stroke-width="1"/>
<rect x="454.3" y="158.9" width="30.6" height="9.2" fill="#fff" stroke="#cdcdcd" stroke-width="1"/>
<text x="455.60" y="167.10" font-family='"DejaVu Sans Condensed", "DejaVu Sans", Tahoma, sans-serif' font-size="9.5" textLength="27.30" lengthAdjust="spacingAndGlyphs" stroke="#000" stroke-width="0.3">0.6176</text>
<path d="M448.0,218.5L452.8,214.5L457.4,218.5" fill="#fff" stroke="#d2d2d2" stroke-width="1"/>
<rect x="437.3" y="218.5" width="30.6" height="9.2" fill="#fff" stroke="#cdcdcd" stroke-width="1"/>
<text x="438.60" y="226.70" font-family='"DejaVu Sans Condensed", "DejaVu Sans", Tahoma, sans-serif' font-size="9.5" textLength="27.30" lengthAdjust="spacingAndGlyphs" stroke="#000" stroke-width="0.3">0.6081</text>
<path d="M413.6,232.5L418.40000000000003,228.1L423.0,232.5" fill="#fff" stroke="#d2d2d2" stroke-width="1"/>
<rect x="402.9" y="232.5" width="30.6" height="9.2" fill="#fff" stroke="#cdcdcd" stroke-width="1"/>
<text x="404.20" y="240.70" font-family='"DejaVu Sans Condensed", "DejaVu Sans", Tahoma, sans-serif' font-size="9.5" textLength="27.30" lengthAdjust="spacingAndGlyphs" stroke="#000" stroke-width="0.3">0.6047</text>
<path d="M530.4,213.1L535.1999999999999,217.6L539.8,213.1" fill="#fff" stroke="#d2d2d2" stroke-width="1"/>
<rect x="519.7" y="203.9" width="30.6" height="9.2" fill="#fff" stroke="#cdcdcd" stroke-width="1"/>
<text x="521.00" y="212.10" font-family='"DejaVu Sans Condensed", "DejaVu Sans", Tahoma, sans-serif' font-size="9.5" textLength="27.30" lengthAdjust="spacingAndGlyphs" stroke="#000" stroke-width="0.3">0.6065</text>
<path d="M512.4,273.5L517.1999999999999,268.5L521.8,273.5" fill="#fff" stroke="#d2d2d2" stroke-width="1"/>
<rect x="501.7" y="273.5" width="30.6" height="9.2" fill="#fff" stroke="#cdcdcd" stroke-width="1"/>
<text x="503.00" y="281.70" font-family='"DejaVu Sans Condensed", "DejaVu Sans", Tahoma, sans-serif' font-size="9.5" textLength="27.30" lengthAdjust="spacingAndGlyphs" stroke="#000" stroke-width="0.3">0.5946</text>
<path d="M576.6,297.5L581.4,292.5L586.0,297.5" fill="#fff" stroke="#d2d2d2" stroke-width="1"/>
<rect x="565.9" y="297.5" width="30.6" height="9.2" fill="#fff" stroke="#cdcdcd" stroke-width="1"/>
<text x="567.20" y="305.70" font-family='"DejaVu Sans Condensed", "DejaVu Sans", Tahoma, sans-serif' font-size="9.5" textLength="27.30" lengthAdjust="spacingAndGlyphs" stroke="#000" stroke-width="0.3">0.5886</text>
<path d="M657.0,158.7L661.8,164.4L666.4,158.7" fill="#fff" stroke="#d2d2d2" stroke-width="1"/>
<rect x="646.3" y="149.5" width="30.6" height="9.2" fill="#fff" stroke="#cdcdcd" stroke-width="1"/>
<text x="647.60" y="157.70" font-family='"DejaVu Sans Condensed", "DejaVu Sans", Tahoma, sans-serif' font-size="9.5" textLength="27.30" lengthAdjust="spacingAndGlyphs" stroke="#000" stroke-width="0.3">0.6198</text>
<path d="M660.4,208.5L665.1999999999999,204.1L669.8,208.5" fill="#fff" stroke="#d2d2d2" stroke-width="1"/>
<rect x="649.7" y="208.5" width="30.6" height="9.2" fill="#fff" stroke="#cdcdcd" stroke-width="1"/>
<text x="651.00" y="216.70" font-family='"DejaVu Sans Condensed", "DejaVu Sans", Tahoma, sans-serif' font-size="9.5" textLength="27.30" lengthAdjust="spacingAndGlyphs" stroke="#000" stroke-width="0.3">0.6107</text>
<path d="M715.6,180.1L720.4,185.6L725.0,180.1" fill="#fff" stroke="#d2d2d2" stroke-width="1"/>
<rect x="704.9" y="170.9" width="30.6" height="9.2" fill="#fff" stroke="#cdcdcd" stroke-width="1"/>
<text x="706.20" y="179.10" font-family='"DejaVu Sans Condensed", "DejaVu Sans", Tahoma, sans-serif' font-size="9.5" textLength="27.30" lengthAdjust="spacingAndGlyphs" stroke="#000" stroke-width="0.3">0.6145</text>
<path d="M706.6,224.3L711.4,220.1L716.0,224.3" fill="#fff" stroke="#d2d2d2" stroke-width="1"/>
<rect x="695.9" y="224.3" width="30.6" height="9.2" fill="#fff" stroke="#cdcdcd" stroke-width="1"/>
<text x="697.20" y="232.50" font-family='"DejaVu Sans Condensed", "DejaVu Sans", Tahoma, sans-serif' font-size="9.5" textLength="27.30" lengthAdjust="spacingAndGlyphs" stroke="#000" stroke-width="0.3">0.6067</text>
<path d="M777.4,255.7L782.1999999999999,260.8L786.8,255.7" fill="#fff" stroke="#d2d2d2" stroke-width="1"/>
<rect x="766.7" y="246.5" width="30.6" height="9.2" fill="#fff" stroke="#cdcdcd" stroke-width="1"/>
<text x="768.00" y="254.70" font-family='"DejaVu Sans Condensed", "DejaVu Sans", Tahoma, sans-serif' font-size="9.5" textLength="27.30" lengthAdjust="spacingAndGlyphs" stroke="#000" stroke-width="0.3">0.5957</text>
<path d="M764.4,300.5L769.1999999999999,295.29999999999995L773.8,300.5" fill="#fff" stroke="#d2d2d2" stroke-width="1"/>
<rect x="753.7" y="300.5" width="30.6" height="9.2" fill="#fff" stroke="#cdcdcd" stroke-width="1"/>
<text x="755.00" y="308.70" font-family='"DejaVu Sans Condensed", "DejaVu Sans", Tahoma, sans-serif' font-size="9.5" textLength="27.30" lengthAdjust="spacingAndGlyphs" stroke="#000" stroke-width="0.3">0.5879</text>
<rect x="16.5" y="91.5" width="778.0" height="250.0" fill="none" stroke="#b0b0b0"/>
<path d="M17.5 342v1 M20.5 342v1 M23.5 342v1 M26.5 342v1 M30.5 342v1 M33.5 342v1 M36.5 342v1 M39.5 342v1 M42.5 342v1 M45.5 342v1 M48.5 342v1 M51.5 342v1 M54.5 342v1 M57.5 342v1 M60.5 342v1 M63.5 342v1 M67.5 342v1 M70.5 342v1 M73.5 342v1 M76.5 342v1 M79.5 342v1 M82.5 342v1 M85.5 342v1 M88.5 342v1 M91.5 342v1 M94.5 342v1 M97.5 342v1 M100.5 342v1 M104.5 342v1 M107.5 342v1 M110.5 342v1 M113.5 342v1 M116.5 342v1 M119.5 342v1 M122.5 342v1 M125.5 342v1 M128.5 342v1 M131.5 342v1 M134.5 342v1 M137.5 342v1 M141.5 342v1 M144.5 342v1 M147.5 342v1 M150.5 342v1 M153.5 342v1 M156.5 342v1 M159.5 342v1 M162.5 342v1 M165.5 342v1 M168.5 342v1 M171.5 342v1 M174.5 342v1 M178.5 342v1 M181.5 342v1 M184.5 342v1 M187.5 342v1 M190.5 342v1 M193.5 342v1 M196.5 342v1 M199.5 342v1 M202.5 342v1 M205.5 342v1 M208.5 342v1 M211.5 342v1 M215.5 342v1 M218.5 342v1 M221.5 342v1 M224.5 342v1 M227.5 342v1 M230.5 342v1 M233.5 342v1 M236.5 342v1 M239.5 342v1 M242.5 342v1 M245.5 342v1 M248.5 342v1 M252.5 342v1 M255.5 342v1 M258.5 342v1 M261.5 342v1 M264.5 342v1 M267.5 342v1 M270.5 342v1 M273.5 342v1 M276.5 342v1 M279.5 342v1 M282.5 342v1 M285.5 342v1 M289.5 342v1 M292.5 342v1 M295.5 342v1 M298.5 342v1 M301.5 342v1 M304.5 342v1 M307.5 342v1 M310.5 342v1 M313.5 342v1 M316.5 342v1 M319.5 342v1 M322.5 342v1 M326.5 342v1 M329.5 342v1 M332.5 342v1 M335.5 342v1 M338.5 342v1 M341.5 342v1 M344.5 342v1 M347.5 342v1 M350.5 342v1 M353.5 342v1 M356.5 342v1 M359.5 342v1 M363.5 342v1 M366.5 342v1 M369.5 342v1 M372.5 342v1 M375.5 342v1 M378.5 342v1 M381.5 342v1 M384.5 342v1 M387.5 342v1 M390.5 342v1 M393.5 342v1 M396.5 342v1 M400.5 342v1 M403.5 342v1 M406.5 342v1 M409.5 342v1 M412.5 342v1 M415.5 342v1 M418.5 342v1 M421.5 342v1 M424.5 342v1 M427.5 342v1 M430.5 342v1 M433.5 342v1 M437.5 342v1 M440.5 342v1 M443.5 342v1 M446.5 342v1 M449.5 342v1 M452.5 342v1 M455.5 342v1 M458.5 342v1 M461.5 342v1 M464.5 342v1 M467.5 342v1 M470.5 342v1 M474.5 342v1 M477.5 342v1 M480.5 342v1 M483.5 342v1 M486.5 342v1 M489.5 342v1 M492.5 342v1 M495.5 342v1 M498.5 342v1 M501.5 342v1 M504.5 342v1 M507.5 342v1 M511.5 342v1 M514.5 342v1 M517.5 342v1 M520.5 342v1 M523.5 342v1 M526.5 342v1 M529.5 342v1 M532.5 342v1 M535.5 342v1 M538.5 342v1 M541.5 342v1 M544.5 342v1 M548.5 342v1 M551.5 342v1 M554.5 342v1 M557.5 342v1 M560.5 342v1 M563.5 342v1 M566.5 342v1 M569.5 342v1 M572.5 342v1 M575.5 342v1 M578.5 342v1 M581.5 342v1 M585.5 342v1 M588.5 342v1 M591.5 342v1 M594.5 342v1 M597.5 342v1 M600.5 342v1 M603.5 342v1 M606.5 342v1 M609.5 342v1 M612.5 342v1 M615.5 342v1 M619.5 342v1 M622.5 342v1 M625.5 342v1 M628.5 342v1 M631.5 342v1 M634.5 342v1 M637.5 342v1 M640.5 342v1 M643.5 342v1 M646.5 342v1 M649.5 342v1 M652.5 342v1 M656.5 342v1 M659.5 342v1 M662.5 342v1 M665.5 342v1 M668.5 342v1 M671.5 342v1 M674.5 342v1 M677.5 342v1 M680.5 342v1 M683.5 342v1 M686.5 342v1 M689.5 342v1 M693.5 342v1 M696.5 342v1 M699.5 342v1 M702.5 342v1 M705.5 342v1 M708.5 342v1 M711.5 342v1 M714.5 342v1 M717.5 342v1 M720.5 342v1 M723.5 342v1 M726.5 342v1 M730.5 342v1 M733.5 342v1 M736.5 342v1 M739.5 342v1 M742.5 342v1 M745.5 342v1 M748.5 342v1 M751.5 342v1 M754.5 342v1 M757.5 342v1 M760.5 342v1 M763.5 342v1 M767.5 342v1 M770.5 342v1 M773.5 342v1 M776.5 342v1 M779.5 342v1 M782.5 342v1 M785.5 342v1 M788.5 342v1" stroke="#b8b8b8" stroke-width="1" fill="none"/>
<line x1="794.5" y1="104.5" x2="797.0" y2="104.5" stroke="#b0b0b0" stroke-width="1"/>
<text x="797.80" y="107.10" font-family='"Liberation Sans", Arial, Helvetica, sans-serif' font-size="10" textLength="26.50" lengthAdjust="spacingAndGlyphs">0.635</text>
<line x1="794.5" y1="124.5" x2="797.0" y2="124.5" stroke="#b0b0b0" stroke-width="1"/>
<text x="797.80" y="127.10" font-family='"Liberation Sans", Arial, Helvetica, sans-serif' font-size="10" textLength="26.50" lengthAdjust="spacingAndGlyphs">0.630</text>
<line x1="794.5" y1="144.5" x2="797.0" y2="144.5" stroke="#b0b0b0" stroke-width="1"/>
<text x="797.80" y="147.10" font-family='"Liberation Sans", Arial, Helvetica, sans-serif' font-size="10" textLength="26.50" lengthAdjust="spacingAndGlyphs">0.625</text>
<line x1="794.5" y1="164.5" x2="797.0" y2="164.5" stroke="#b0b0b0" stroke-width="1"/>
<text x="797.80" y="167.10" font-family='"Liberation Sans", Arial, Helvetica, sans-serif' font-size="10" textLength="26.50" lengthAdjust="spacingAndGlyphs">0.620</text>
<line x1="794.5" y1="184.5" x2="797.0" y2="184.5" stroke="#b0b0b0" stroke-width="1"/>
<text x="797.80" y="187.10" font-family='"Liberation Sans", Arial, Helvetica, sans-serif' font-size="10" textLength="26.50" lengthAdjust="spacingAndGlyphs">0.615</text>
<line x1="794.5" y1="205.5" x2="797.0" y2="205.5" stroke="#b0b0b0" stroke-width="1"/>
<text x="797.80" y="208.10" font-family='"Liberation Sans", Arial, Helvetica, sans-serif' font-size="10" textLength="26.50" lengthAdjust="spacingAndGlyphs">0.610</text>
<line x1="794.5" y1="225.5" x2="797.0" y2="225.5" stroke="#b0b0b0" stroke-width="1"/>
<text x="797.80" y="228.10" font-family='"Liberation Sans", Arial, Helvetica, sans-serif' font-size="10" textLength="26.50" lengthAdjust="spacingAndGlyphs">0.605</text>
<line x1="794.5" y1="245.5" x2="797.0" y2="245.5" stroke="#b0b0b0" stroke-width="1"/>
<text x="797.80" y="248.10" font-family='"Liberation Sans", Arial, Helvetica, sans-serif' font-size="10" textLength="26.50" lengthAdjust="spacingAndGlyphs">0.600</text>
<line x1="794.5" y1="265.5" x2="797.0" y2="265.5" stroke="#b0b0b0" stroke-width="1"/>
<text x="797.80" y="268.10" font-family='"Liberation Sans", Arial, Helvetica, sans-serif' font-size="10" textLength="26.50" lengthAdjust="spacingAndGlyphs">0.595</text>
<line x1="794.5" y1="285.5" x2="797.0" y2="285.5" stroke="#b0b0b0" stroke-width="1"/>
<text x="797.80" y="288.10" font-family='"Liberation Sans", Arial, Helvetica, sans-serif' font-size="10" textLength="26.50" lengthAdjust="spacingAndGlyphs">0.590</text>
<line x1="794.5" y1="305.5" x2="797.0" y2="305.5" stroke="#b0b0b0" stroke-width="1"/>
<text x="797.80" y="308.10" font-family='"Liberation Sans", Arial, Helvetica, sans-serif' font-size="10" textLength="26.50" lengthAdjust="spacingAndGlyphs">0.585</text>
<line x1="794.5" y1="325.5" x2="797.0" y2="325.5" stroke="#b0b0b0" stroke-width="1"/>
<text x="797.80" y="328.10" font-family='"Liberation Sans", Arial, Helvetica, sans-serif' font-size="10" textLength="26.50" lengthAdjust="spacingAndGlyphs">0.580</text>
<line x1="19" y1="98" x2="28" y2="98" stroke="#000" stroke-width="2.5"/>
<text x="31.50" y="102.00" font-family='"DejaVu Sans", Verdana, "Liberation Sans", sans-serif' font-size="9" stroke="#000" stroke-width="0.1" textLength="151.00" lengthAdjust="spacingAndGlyphs">$NZD (Daily) 0.595 (6 Aug)</text>
<line x1="19" y1="108.8" x2="27.6" y2="108.8" stroke="#10109a" stroke-width="2"/>
<text x="29.80" y="112.50" font-family='"DejaVu Sans Condensed", "DejaVu Sans", Tahoma, sans-serif' font-size="9.5" fill="#10109a" stroke="#10109a" stroke-width="0.1" textLength="58.70" lengthAdjust="spacingAndGlyphs">MA(50) 0.607</text>
<line x1="19" y1="119.8" x2="27.6" y2="119.8" stroke="#d4143c" stroke-width="2"/>
<text x="29.80" y="123.50" font-family='"DejaVu Sans Condensed", "DejaVu Sans", Tahoma, sans-serif' font-size="9.5" fill="#d4143c" stroke="#d4143c" stroke-width="0.1" textLength="63.00" lengthAdjust="spacingAndGlyphs">MA(200) 0.607</text>
<line x1="19" y1="130.6" x2="27.6" y2="130.6" stroke="#0e6e0e" stroke-width="2"/>
<text x="29.80" y="134.30" font-family='"DejaVu Sans Condensed", "DejaVu Sans", Tahoma, sans-serif' font-size="9.5" fill="#0e6e0e" stroke="#0e6e0e" stroke-width="0.1" textLength="58.70" lengthAdjust="spacingAndGlyphs">MA(20) 0.599</text>
<path d="M19 144.5v-4h2v4zM21.5 144.5v-7h2v7zM24 144.5v-5.5h2v5.5zM26.2 144.5v-6h1.6v6z" fill="#4a5a4a"/>
<text x="29.80" y="144.50" font-family='"DejaVu Sans", Verdana, "Liberation Sans", sans-serif' font-size="9" fill="#3c4a3c" stroke="#3c4a3c" stroke-width="0.1" textLength="62.20" lengthAdjust="spacingAndGlyphs">Volume undef</text>
<text x="73.50" y="352.30" font-family='"DejaVu Sans", Verdana, "Liberation Sans", sans-serif' font-size="9" text-anchor="middle" stroke="#000" stroke-width="0.1" textLength="17.00" lengthAdjust="spacingAndGlyphs">Sep</text>
<text x="135.18" y="352.30" font-family='"DejaVu Sans", Verdana, "Liberation Sans", sans-serif' font-size="9" text-anchor="middle" stroke="#000" stroke-width="0.1" textLength="17.00" lengthAdjust="spacingAndGlyphs">Oct</text>
<text x="203.02" y="352.30" font-family='"DejaVu Sans", Verdana, "Liberation Sans", sans-serif' font-size="9" text-anchor="middle" stroke="#000" stroke-width="0.1" textLength="17.00" lengthAdjust="spacingAndGlyphs">Nov</text>
<text x="267.77" y="352.30" font-family='"DejaVu Sans", Verdana, "Liberation Sans", sans-serif' font-size="9" text-anchor="middle" stroke="#000" stroke-width="0.1" textLength="17.00" lengthAdjust="spacingAndGlyphs">Dec</text>
<text x="329.14" y="352.60" font-family='"Liberation Sans", Arial, Helvetica, sans-serif' font-size="11" font-weight="bold" text-anchor="middle" textLength="24.50" lengthAdjust="spacingAndGlyphs">2024</text>
<text x="394.20" y="352.30" font-family='"DejaVu Sans", Verdana, "Liberation Sans", sans-serif' font-size="9" text-anchor="middle" stroke="#000" stroke-width="0.1" textLength="17.00" lengthAdjust="spacingAndGlyphs">Feb</text>
<text x="455.87" y="352.30" font-family='"DejaVu Sans", Verdana, "Liberation Sans", sans-serif' font-size="9" text-anchor="middle" stroke="#000" stroke-width="0.1" textLength="17.50" lengthAdjust="spacingAndGlyphs">Mar</text>
<text x="517.54" y="352.30" font-family='"DejaVu Sans", Verdana, "Liberation Sans", sans-serif' font-size="9" text-anchor="middle" stroke="#000" stroke-width="0.1" textLength="17.00" lengthAdjust="spacingAndGlyphs">Apr</text>
<text x="585.38" y="352.30" font-family='"DejaVu Sans", Verdana, "Liberation Sans", sans-serif' font-size="9" text-anchor="middle" stroke="#000" stroke-width="0.1" textLength="18.50" lengthAdjust="spacingAndGlyphs">May</text>
<text x="653.22" y="352.30" font-family='"DejaVu Sans", Verdana, "Liberation Sans", sans-serif' font-size="9" text-anchor="middle" stroke="#000" stroke-width="0.1" textLength="16.50" lengthAdjust="spacingAndGlyphs">Jun</text>
<text x="711.81" y="352.30" font-family='"DejaVu Sans", Verdana, "Liberation Sans", sans-serif' font-size="9" text-anchor="middle" stroke="#000" stroke-width="0.1" textLength="14.00" lengthAdjust="spacingAndGlyphs">Jul</text>
<text x="779.65" y="352.30" font-family='"DejaVu Sans", Verdana, "Liberation Sans", sans-serif' font-size="9" text-anchor="middle" stroke="#000" stroke-width="0.1" textLength="17.50" lengthAdjust="spacingAndGlyphs">Aug</text>
<line x1="30.5" y1="355.5" x2="30.5" y2="616.5" stroke="rgba(0,0,0,0.095)" stroke-width="1"/>
<line x1="45.5" y1="355.5" x2="45.5" y2="616.5" stroke="rgba(0,0,0,0.095)" stroke-width="1"/>
<line x1="60.5" y1="355.5" x2="60.5" y2="616.5" stroke="rgba(0,0,0,0.095)" stroke-width="1"/>
<line x1="76.5" y1="355.5" x2="76.5" y2="616.5" stroke="rgba(0,0,0,0.095)" stroke-width="1"/>
<line x1="88.5" y1="355.5" x2="88.5" y2="616.5" stroke="rgba(0,0,0,0.095)" stroke-width="1"/>
<line x1="104.5" y1="355.5" x2="104.5" y2="616.5" stroke="rgba(0,0,0,0.095)" stroke-width="1"/>
<line x1="119.5" y1="355.5" x2="119.5" y2="616.5" stroke="rgba(0,0,0,0.095)" stroke-width="1"/>
<line x1="134.5" y1="355.5" x2="134.5" y2="616.5" stroke="rgba(0,0,0,0.095)" stroke-width="1"/>
<line x1="150.5" y1="355.5" x2="150.5" y2="616.5" stroke="rgba(0,0,0,0.095)" stroke-width="1"/>
<line x1="165.5" y1="355.5" x2="165.5" y2="616.5" stroke="rgba(0,0,0,0.095)" stroke-width="1"/>
<line x1="181.5" y1="355.5" x2="181.5" y2="616.5" stroke="rgba(0,0,0,0.095)" stroke-width="1"/>
<line x1="196.5" y1="355.5" x2="196.5" y2="616.5" stroke="rgba(0,0,0,0.095)" stroke-width="1"/>
<line x1="211.5" y1="355.5" x2="211.5" y2="616.5" stroke="rgba(0,0,0,0.095)" stroke-width="1"/>
<line x1="227.5" y1="355.5" x2="227.5" y2="616.5" stroke="rgba(0,0,0,0.095)" stroke-width="1"/>
<line x1="242.5" y1="355.5" x2="242.5" y2="616.5" stroke="rgba(0,0,0,0.095)" stroke-width="1"/>
<line x1="255.5" y1="355.5" x2="255.5" y2="616.5" stroke="rgba(0,0,0,0.095)" stroke-width="1"/>
<line x1="270.5" y1="355.5" x2="270.5" y2="616.5" stroke="rgba(0,0,0,0.095)" stroke-width="1"/>
<line x1="285.5" y1="355.5" x2="285.5" y2="616.5" stroke="rgba(0,0,0,0.095)" stroke-width="1"/>
<line x1="301.5" y1="355.5" x2="301.5" y2="616.5" stroke="rgba(0,0,0,0.095)" stroke-width="1"/>
<line x1="316.5" y1="355.5" x2="316.5" y2="616.5" stroke="rgba(0,0,0,0.095)" stroke-width="1"/>
<line x1="329.5" y1="355.5" x2="329.5" y2="616.5" stroke="rgba(0,0,0,0.095)" stroke-width="1"/>
<line x1="341.5" y1="355.5" x2="341.5" y2="616.5" stroke="rgba(0,0,0,0.095)" stroke-width="1"/>
<line x1="356.5" y1="355.5" x2="356.5" y2="616.5" stroke="rgba(0,0,0,0.095)" stroke-width="1"/>
<line x1="369.5" y1="355.5" x2="369.5" y2="616.5" stroke="rgba(0,0,0,0.095)" stroke-width="1"/>
<line x1="384.5" y1="355.5" x2="384.5" y2="616.5" stroke="rgba(0,0,0,0.095)" stroke-width="1"/>
<line x1="400.5" y1="355.5" x2="400.5" y2="616.5" stroke="rgba(0,0,0,0.095)" stroke-width="1"/>
<line x1="415.5" y1="355.5" x2="415.5" y2="616.5" stroke="rgba(0,0,0,0.095)" stroke-width="1"/>
<line x1="430.5" y1="355.5" x2="430.5" y2="616.5" stroke="rgba(0,0,0,0.095)" stroke-width="1"/>
<line x1="443.5" y1="355.5" x2="443.5" y2="616.5" stroke="rgba(0,0,0,0.095)" stroke-width="1"/>
<line x1="458.5" y1="355.5" x2="458.5" y2="616.5" stroke="rgba(0,0,0,0.095)" stroke-width="1"/>
<line x1="474.5" y1="355.5" x2="474.5" y2="616.5" stroke="rgba(0,0,0,0.095)" stroke-width="1"/>
<line x1="489.5" y1="355.5" x2="489.5" y2="616.5" stroke="rgba(0,0,0,0.095)" stroke-width="1"/>
<line x1="504.5" y1="355.5" x2="504.5" y2="616.5" stroke="rgba(0,0,0,0.095)" stroke-width="1"/>
<line x1="517.5" y1="355.5" x2="517.5" y2="616.5" stroke="rgba(0,0,0,0.095)" stroke-width="1"/>
<line x1="532.5" y1="355.5" x2="532.5" y2="616.5" stroke="rgba(0,0,0,0.095)" stroke-width="1"/>
<line x1="548.5" y1="355.5" x2="548.5" y2="616.5" stroke="rgba(0,0,0,0.095)" stroke-width="1"/>
<line x1="563.5" y1="355.5" x2="563.5" y2="616.5" stroke="rgba(0,0,0,0.095)" stroke-width="1"/>
<line x1="578.5" y1="355.5" x2="578.5" y2="616.5" stroke="rgba(0,0,0,0.095)" stroke-width="1"/>
<line x1="594.5" y1="355.5" x2="594.5" y2="616.5" stroke="rgba(0,0,0,0.095)" stroke-width="1"/>
<line x1="609.5" y1="355.5" x2="609.5" y2="616.5" stroke="rgba(0,0,0,0.095)" stroke-width="1"/>
<line x1="625.5" y1="355.5" x2="625.5" y2="616.5" stroke="rgba(0,0,0,0.095)" stroke-width="1"/>
<line x1="640.5" y1="355.5" x2="640.5" y2="616.5" stroke="rgba(0,0,0,0.095)" stroke-width="1"/>
<line x1="652.5" y1="355.5" x2="652.5" y2="616.5" stroke="rgba(0,0,0,0.095)" stroke-width="1"/>
<line x1="668.5" y1="355.5" x2="668.5" y2="616.5" stroke="rgba(0,0,0,0.095)" stroke-width="1"/>
<line x1="683.5" y1="355.5" x2="683.5" y2="616.5" stroke="rgba(0,0,0,0.095)" stroke-width="1"/>
<line x1="696.5" y1="355.5" x2="696.5" y2="616.5" stroke="rgba(0,0,0,0.095)" stroke-width="1"/>
<line x1="711.5" y1="355.5" x2="711.5" y2="616.5" stroke="rgba(0,0,0,0.095)" stroke-width="1"/>
<line x1="723.5" y1="355.5" x2="723.5" y2="616.5" stroke="rgba(0,0,0,0.095)" stroke-width="1"/>
<line x1="739.5" y1="355.5" x2="739.5" y2="616.5" stroke="rgba(0,0,0,0.095)" stroke-width="1"/>
<line x1="754.5" y1="355.5" x2="754.5" y2="616.5" stroke="rgba(0,0,0,0.095)" stroke-width="1"/>
<line x1="770.5" y1="355.5" x2="770.5" y2="616.5" stroke="rgba(0,0,0,0.095)" stroke-width="1"/>
<line x1="785.5" y1="355.5" x2="785.5" y2="616.5" stroke="rgba(0,0,0,0.095)" stroke-width="1"/>
<line x1="73.5" y1="355.5" x2="73.5" y2="616.5" stroke="rgba(0,0,0,0.17)" stroke-width="1"/>
<line x1="134.5" y1="355.5" x2="134.5" y2="616.5" stroke="rgba(0,0,0,0.17)" stroke-width="1"/>
<line x1="202.5" y1="355.5" x2="202.5" y2="616.5" stroke="rgba(0,0,0,0.17)" stroke-width="1"/>
<line x1="267.5" y1="355.5" x2="267.5" y2="616.5" stroke="rgba(0,0,0,0.17)" stroke-width="1"/>
<line x1="329.5" y1="355.5" x2="329.5" y2="616.5" stroke="rgba(0,0,0,0.17)" stroke-width="1"/>
<line x1="393.5" y1="355.5" x2="393.5" y2="616.5" stroke="rgba(0,0,0,0.17)" stroke-width="1"/>
<line x1="455.5" y1="355.5" x2="455.5" y2="616.5" stroke="rgba(0,0,0,0.17)" stroke-width="1"/>
<line x1="517.5" y1="355.5" x2="517.5" y2="616.5" stroke="rgba(0,0,0,0.17)" stroke-width="1"/>
<line x1="585.5" y1="355.5" x2="585.5" y2="616.5" stroke="rgba(0,0,0,0.17)" stroke-width="1"/>
<line x1="652.5" y1="355.5" x2="652.5" y2="616.5" stroke="rgba(0,0,0,0.17)" stroke-width="1"/>
<line x1="711.5" y1="355.5" x2="711.5" y2="616.5" stroke="rgba(0,0,0,0.17)" stroke-width="1"/>
<line x1="779.5" y1="355.5" x2="779.5" y2="616.5" stroke="rgba(0,0,0,0.17)" stroke-width="1"/>
<line x1="16.5" y1="362.5" x2="794.5" y2="362.5" stroke="rgba(0,0,0,0.1)" stroke-width="1"/>
<line x1="16.5" y1="375.5" x2="794.5" y2="375.5" stroke="rgba(0,0,0,0.1)" stroke-width="1"/>
<line x1="16.5" y1="388.5" x2="794.5" y2="388.5" stroke="rgba(0,0,0,0.1)" stroke-width="1"/>
<line x1="16.5" y1="400.5" x2="794.5" y2="400.5" stroke="rgba(0,0,0,0.1)" stroke-width="1"/>
<line x1="16.5" y1="413.5" x2="794.5" y2="413.5" stroke="rgba(0,0,0,0.1)" stroke-width="1"/>
<line x1="16.5" y1="425.5" x2="794.5" y2="425.5" stroke="rgba(0,0,0,0.1)" stroke-width="1"/>
<line x1="16.5" y1="438.5" x2="794.5" y2="438.5" stroke="rgba(0,0,0,0.1)" stroke-width="1"/>
<line x1="16.5" y1="442.5" x2="794.5" y2="442.5" stroke="#c8c8c8" stroke-width="1"/>
<line x1="16.5" y1="529.5" x2="794.5" y2="529.5" stroke="#c8c8c8" stroke-width="1"/>
<line x1="16.5" y1="523.5" x2="794.5" y2="523.5" stroke="#e2e2e2" stroke-width="1"/>
<line x1="16.5" y1="516.5" x2="794.5" y2="516.5" stroke="#e2e2e2" stroke-width="1"/>
<line x1="16.5" y1="508.5" x2="794.5" y2="508.5" stroke="#e2e2e2" stroke-width="1"/>
<line x1="16.5" y1="493.5" x2="794.5" y2="493.5" stroke="#e2e2e2" stroke-width="1"/>
<line x1="16.5" y1="479.5" x2="794.5" y2="479.5" stroke="#e2e2e2" stroke-width="1"/>
<line x1="16.5" y1="464.5" x2="794.5" y2="464.5" stroke="#e2e2e2" stroke-width="1"/>
<line x1="16.5" y1="456.5" x2="794.5" y2="456.5" stroke="#e2e2e2" stroke-width="1"/>
<line x1="16.5" y1="449.5" x2="794.5" y2="449.5" stroke="#e2e2e2" stroke-width="1"/>
<line x1="16.5" y1="610.5" x2="794.5" y2="610.5" stroke="#e2e2e2" stroke-width="1"/>
<line x1="16.5" y1="602.5" x2="794.5" y2="602.5" stroke="#e2e2e2" stroke-width="1"/>
<line x1="16.5" y1="588.5" x2="794.5" y2="588.5" stroke="#e2e2e2" stroke-width="1"/>
<line x1="16.5" y1="580.5" x2="794.5" y2="580.5" stroke="#e2e2e2" stroke-width="1"/>
<line x1="16.5" y1="566.5" x2="794.5" y2="566.5" stroke="#e2e2e2" stroke-width="1"/>
<line x1="16.5" y1="558.5" x2="794.5" y2="558.5" stroke="#e2e2e2" stroke-width="1"/>
<line x1="16.5" y1="544.5" x2="794.5" y2="544.5" stroke="#e2e2e2" stroke-width="1"/>
<line x1="16.5" y1="536.5" x2="794.5" y2="536.5" stroke="#e2e2e2" stroke-width="1"/>
<line x1="16.5" y1="471.5" x2="794.5" y2="471.5" stroke="#666" stroke-width="1.2"/>
<line x1="16.5" y1="501.5" x2="794.5" y2="501.5" stroke="#666" stroke-width="1.2"/>
<line x1="16.5" y1="551.5" x2="794.5" y2="551.5" stroke="#666" stroke-width="1.2"/>
<line x1="16.5" y1="595.5" x2="794.5" y2="595.5" stroke="#666" stroke-width="1.2"/>
<line x1="16.5" y1="486.5" x2="794.5" y2="486.5" stroke="#555" stroke-width="1" stroke-dasharray="7 3 3 2"/>
<line x1="16.5" y1="573.5" x2="794.5" y2="573.5" stroke="#555" stroke-width="1" stroke-dasharray="7 3 3 2"/>
<g fill="#58a8d6" stroke="#1d648f" stroke-width="1" shape-rendering="crispEdges"><rect x="17.5" y="400.5" width="2.0" height="10.0"/><rect x="19.5" y="400.5" width="3.0" height="10.0"/><rect x="22.5" y="400.5" width="3.0" height="10.0"/><rect x="25.5" y="400.5" width="3.0" height="11.0"/><rect x="28.5" y="400.5" width="4.0" height="12.0"/><rect x="32.5" y="400.5" width="3.0" height="12.0"/><rect x="35.5" y="400.5" width="3.0" height="12.0"/><rect x="38.5" y="400.5" width="3.0" height="11.0"/><rect x="41.5" y="400.5" width="3.0" height="10.0"/><rect x="44.5" y="400.5" width="3.0" height="9.0"/><rect x="47.5" y="400.5" width="3.0" height="7.0"/><rect x="50.5" y="400.5" width="3.0" height="4.0"/><rect x="53.5" y="400.5" width="3.0" height="3.0"/><rect x="56.5" y="400.5" width="3.0" height="2.0"/><rect x="59.5" y="400.5" width="3.0" height="1.0"/><rect x="62.5" y="398.5" width="3.0" height="2.0"/><rect x="65.5" y="397.5" width="4.0" height="3.0"/><rect x="69.5" y="396.5" width="3.0" height="4.0"/><rect x="72.5" y="396.5" width="3.0" height="4.0"/><rect x="75.5" y="397.5" width="3.0" height="3.0"/><rect x="78.5" y="398.5" width="3.0" height="2.0"/><rect x="81.5" y="399.5" width="3.0" height="1.0"/><rect x="84.5" y="399.5" width="3.0" height="1.0"/><rect x="87.5" y="398.5" width="3.0" height="2.0"/><rect x="90.5" y="398.5" width="3.0" height="2.0"/><rect x="93.5" y="397.5" width="3.0" height="3.0"/><rect x="96.5" y="397.5" width="3.0" height="3.0"/><rect x="99.5" y="396.5" width="3.0" height="4.0"/><rect x="102.5" y="396.5" width="4.0" height="4.0"/><rect x="106.5" y="395.5" width="3.0" height="5.0"/><rect x="109.5" y="395.5" width="3.0" height="5.0"/><rect x="112.5" y="394.5" width="3.0" height="6.0"/><rect x="115.5" y="394.5" width="3.0" height="6.0"/><rect x="118.5" y="394.5" width="3.0" height="6.0"/><rect x="121.5" y="394.5" width="3.0" height="6.0"/><rect x="124.5" y="394.5" width="3.0" height="6.0"/><rect x="127.5" y="394.5" width="3.0" height="6.0"/><rect x="130.5" y="394.5" width="3.0" height="6.0"/><rect x="133.5" y="396.5" width="3.0" height="4.0"/><rect x="136.5" y="397.5" width="4.0" height="3.0"/><rect x="140.5" y="398.5" width="3.0" height="2.0"/><rect x="143.5" y="398.5" width="3.0" height="2.0"/><rect x="146.5" y="396.5" width="3.0" height="4.0"/><rect x="149.5" y="395.5" width="3.0" height="5.0"/><rect x="152.5" y="394.5" width="3.0" height="6.0"/><rect x="155.5" y="394.5" width="3.0" height="6.0"/><rect x="158.5" y="397.5" width="3.0" height="3.0"/><rect x="161.5" y="399.5" width="3.0" height="1.0"/><rect x="164.5" y="400.5" width="3.0" height="1.0"/><rect x="167.5" y="400.5" width="3.0" height="4.0"/><rect x="170.5" y="400.5" width="3.0" height="5.0"/><rect x="173.5" y="400.5" width="4.0" height="6.0"/><rect x="177.5" y="400.5" width="3.0" height="7.0"/><rect x="180.5" y="400.5" width="3.0" height="7.0"/><rect x="183.5" y="400.5" width="3.0" height="7.0"/><rect x="186.5" y="400.5" width="3.0" height="7.0"/><rect x="189.5" y="400.5" width="3.0" height="6.0"/><rect x="192.5" y="400.5" width="3.0" height="6.0"/><rect x="195.5" y="400.5" width="3.0" height="5.0"/><rect x="198.5" y="400.5" width="3.0" height="3.0"/><rect x="201.5" y="400.5" width="3.0" height="2.0"/><rect x="204.5" y="399.5" width="3.0" height="1.0"/><rect x="207.5" y="395.5" width="3.0" height="5.0"/><rect x="210.5" y="393.5" width="4.0" height="7.0"/><rect x="214.5" y="392.5" width="3.0" height="8.0"/><rect x="217.5" y="393.5" width="3.0" height="7.0"/><rect x="220.5" y="394.5" width="3.0" height="6.0"/><rect x="223.5" y="396.5" width="3.0" height="4.0"/><rect x="226.5" y="397.5" width="3.0" height="3.0"/><rect x="229.5" y="395.5" width="3.0" height="5.0"/><rect x="232.5" y="393.5" width="3.0" height="7.0"/><rect x="235.5" y="393.5" width="3.0" height="7.0"/><rect x="238.5" y="393.5" width="3.0" height="7.0"/><rect x="241.5" y="392.5" width="3.0" height="8.0"/><rect x="244.5" y="392.5" width="3.0" height="8.0"/><rect x="247.5" y="392.5" width="4.0" height="8.0"/><rect x="251.5" y="391.5" width="3.0" height="9.0"/><rect x="254.5" y="391.5" width="3.0" height="9.0"/><rect x="257.5" y="390.5" width="3.0" height="10.0"/><rect x="260.5" y="390.5" width="3.0" height="10.0"/><rect x="263.5" y="390.5" width="3.0" height="10.0"/><rect x="266.5" y="390.5" width="3.0" height="10.0"/><rect x="269.5" y="390.5" width="3.0" height="10.0"/><rect x="272.5" y="393.5" width="3.0" height="7.0"/><rect x="275.5" y="396.5" width="3.0" height="4.0"/><rect x="278.5" y="398.5" width="3.0" height="2.0"/><rect x="281.5" y="399.5" width="3.0" height="1.0"/><rect x="284.5" y="400.5" width="4.0" height="1.0"/><rect x="288.5" y="400.5" width="3.0" height="2.0"/><rect x="291.5" y="400.5" width="3.0" height="2.0"/><path d="M294.5 400.5H297.5"/><rect x="297.5" y="399.5" width="3.0" height="1.0"/><rect x="300.5" y="399.5" width="3.0" height="1.0"/><rect x="303.5" y="398.5" width="3.0" height="2.0"/><rect x="306.5" y="398.5" width="3.0" height="2.0"/><rect x="309.5" y="398.5" width="3.0" height="2.0"/><rect x="312.5" y="397.5" width="3.0" height="3.0"/><rect x="315.5" y="397.5" width="3.0" height="3.0"/><rect x="318.5" y="397.5" width="3.0" height="3.0"/><rect x="321.5" y="397.5" width="4.0" height="3.0"/><rect x="325.5" y="398.5" width="3.0" height="2.0"/><rect x="328.5" y="400.5" width="3.0" height="1.0"/><rect x="331.5" y="400.5" width="3.0" height="4.0"/><rect x="334.5" y="400.5" width="3.0" height="6.0"/><rect x="337.5" y="400.5" width="3.0" height="7.0"/><rect x="340.5" y="400.5" width="3.0" height="8.0"/><rect x="343.5" y="400.5" width="3.0" height="8.0"/><rect x="346.5" y="400.5" width="3.0" height="9.0"/><rect x="349.5" y="400.5" width="3.0" height="9.0"/><rect x="352.5" y="400.5" width="3.0" height="11.0"/><rect x="355.5" y="400.5" width="3.0" height="13.0"/><rect x="358.5" y="400.5" width="4.0" height="14.0"/><rect x="362.5" y="400.5" width="3.0" height="15.0"/><rect x="365.5" y="400.5" width="3.0" height="15.0"/><rect x="368.5" y="400.5" width="3.0" height="15.0"/><rect x="371.5" y="400.5" width="3.0" height="13.0"/><rect x="374.5" y="400.5" width="3.0" height="12.0"/><rect x="377.5" y="400.5" width="3.0" height="9.0"/><rect x="380.5" y="400.5" width="3.0" height="7.0"/><rect x="383.5" y="400.5" width="3.0" height="6.0"/><rect x="386.5" y="400.5" width="3.0" height="4.0"/><rect x="389.5" y="400.5" width="3.0" height="2.0"/><rect x="392.5" y="400.5" width="3.0" height="2.0"/><rect x="395.5" y="400.5" width="4.0" height="3.0"/><rect x="399.5" y="400.5" width="3.0" height="3.0"/><rect x="402.5" y="400.5" width="3.0" height="3.0"/><rect x="405.5" y="400.5" width="3.0" height="3.0"/><rect x="408.5" y="400.5" width="3.0" height="1.0"/><rect x="411.5" y="398.5" width="3.0" height="2.0"/><rect x="414.5" y="398.5" width="3.0" height="2.0"/><rect x="417.5" y="399.5" width="3.0" height="1.0"/><rect x="420.5" y="399.5" width="3.0" height="1.0"/><rect x="423.5" y="399.5" width="3.0" height="1.0"/><rect x="426.5" y="398.5" width="3.0" height="2.0"/><rect x="429.5" y="396.5" width="3.0" height="4.0"/><rect x="432.5" y="394.5" width="4.0" height="6.0"/><rect x="436.5" y="393.5" width="3.0" height="7.0"/><rect x="439.5" y="393.5" width="3.0" height="7.0"/><rect x="442.5" y="393.5" width="3.0" height="7.0"/><rect x="445.5" y="394.5" width="3.0" height="6.0"/><rect x="448.5" y="399.5" width="3.0" height="1.0"/><path d="M451.5 400.5H454.5"/><rect x="454.5" y="400.5" width="3.0" height="2.0"/><rect x="457.5" y="400.5" width="3.0" height="2.0"/><rect x="460.5" y="400.5" width="3.0" height="2.0"/><rect x="463.5" y="400.5" width="3.0" height="2.0"/><path d="M466.5 400.5H469.5"/><rect x="469.5" y="398.5" width="4.0" height="2.0"/><rect x="473.5" y="398.5" width="3.0" height="2.0"/><rect x="476.5" y="398.5" width="3.0" height="2.0"/><rect x="479.5" y="398.5" width="3.0" height="2.0"/><rect x="482.5" y="399.5" width="3.0" height="1.0"/><path d="M485.5 400.5H488.5"/><rect x="488.5" y="400.5" width="3.0" height="2.0"/><rect x="491.5" y="400.5" width="3.0" height="3.0"/><rect x="494.5" y="400.5" width="3.0" height="4.0"/><rect x="497.5" y="400.5" width="3.0" height="5.0"/><rect x="500.5" y="400.5" width="3.0" height="6.0"/><rect x="503.5" y="400.5" width="3.0" height="7.0"/><rect x="506.5" y="400.5" width="4.0" height="7.0"/><rect x="510.5" y="400.5" width="3.0" height="7.0"/><rect x="513.5" y="400.5" width="3.0" height="7.0"/><rect x="516.5" y="400.5" width="3.0" height="7.0"/><rect x="519.5" y="400.5" width="3.0" height="7.0"/><rect x="522.5" y="400.5" width="3.0" height="6.0"/><rect x="525.5" y="400.5" width="3.0" height="2.0"/><path d="M528.5 400.5H531.5"/><rect x="531.5" y="398.5" width="3.0" height="2.0"/><rect x="534.5" y="397.5" width="3.0" height="3.0"/><rect x="537.5" y="398.5" width="3.0" height="2.0"/><rect x="540.5" y="399.5" width="3.0" height="1.0"/><rect x="543.5" y="400.5" width="4.0" height="1.0"/><rect x="547.5" y="400.5" width="3.0" height="4.0"/><rect x="550.5" y="400.5" width="3.0" height="4.0"/><rect x="553.5" y="400.5" width="3.0" height="4.0"/><rect x="556.5" y="400.5" width="3.0" height="4.0"/><rect x="559.5" y="400.5" width="3.0" height="4.0"/><rect x="562.5" y="400.5" width="3.0" height="3.0"/><rect x="565.5" y="400.5" width="3.0" height="2.0"/><path d="M568.5 400.5H571.5"/><path d="M571.5 400.5H574.5"/><rect x="574.5" y="399.5" width="3.0" height="1.0"/><rect x="577.5" y="397.5" width="3.0" height="3.0"/><rect x="580.5" y="398.5" width="4.0" height="2.0"/><rect x="584.5" y="398.5" width="3.0" height="2.0"/><rect x="587.5" y="396.5" width="3.0" height="4.0"/><rect x="590.5" y="394.5" width="3.0" height="6.0"/><rect x="593.5" y="394.5" width="3.0" height="6.0"/><rect x="596.5" y="392.5" width="3.0" height="8.0"/><rect x="599.5" y="392.5" width="3.0" height="8.0"/><rect x="602.5" y="392.5" width="3.0" height="8.0"/><rect x="605.5" y="392.5" width="3.0" height="8.0"/><rect x="608.5" y="392.5" width="3.0" height="8.0"/><rect x="611.5" y="392.5" width="3.0" height="8.0"/><rect x="614.5" y="390.5" width="3.0" height="10.0"/><rect x="617.5" y="390.5" width="4.0" height="10.0"/><rect x="621.5" y="390.5" width="3.0" height="10.0"/><rect x="624.5" y="390.5" width="3.0" height="10.0"/><rect x="627.5" y="392.5" width="3.0" height="8.0"/><rect x="630.5" y="393.5" width="3.0" height="7.0"/><rect x="633.5" y="394.5" width="3.0" height="6.0"/><rect x="636.5" y="396.5" width="3.0" height="4.0"/><rect x="639.5" y="396.5" width="3.0" height="4.0"/><rect x="642.5" y="397.5" width="3.0" height="3.0"/><rect x="645.5" y="398.5" width="3.0" height="2.0"/><rect x="648.5" y="398.5" width="3.0" height="2.0"/><rect x="651.5" y="396.5" width="3.0" height="4.0"/><rect x="654.5" y="396.5" width="4.0" height="4.0"/><rect x="658.5" y="396.5" width="3.0" height="4.0"/><rect x="661.5" y="396.5" width="3.0" height="4.0"/><rect x="664.5" y="399.5" width="3.0" height="1.0"/><rect x="667.5" y="400.5" width="3.0" height="1.0"/><rect x="670.5" y="400.5" width="3.0" height="2.0"/><rect x="673.5" y="400.5" width="3.0" height="2.0"/><rect x="676.5" y="400.5" width="3.0" height="2.0"/><rect x="679.5" y="400.5" width="3.0" height="3.0"/><rect x="682.5" y="400.5" width="3.0" height="4.0"/><rect x="685.5" y="400.5" width="3.0" height="4.0"/><rect x="688.5" y="400.5" width="3.0" height="5.0"/><rect x="691.5" y="400.5" width="4.0" height="5.0"/><rect x="695.5" y="400.5" width="3.0" height="6.0"/><rect x="698.5" y="400.5" width="3.0" height="6.0"/><rect x="701.5" y="400.5" width="3.0" height="6.0"/><rect x="704.5" y="400.5" width="3.0" height="7.0"/><rect x="707.5" y="400.5" width="3.0" height="7.0"/><rect x="710.5" y="400.5" width="3.0" height="6.0"/><rect x="713.5" y="400.5" width="3.0" height="5.0"/><rect x="716.5" y="400.5" width="3.0" height="2.0"/><rect x="719.5" y="400.5" width="3.0" height="1.0"/><rect x="722.5" y="400.5" width="3.0" height="1.0"/><rect x="725.5" y="400.5" width="3.0" height="2.0"/><rect x="728.5" y="400.5" width="4.0" height="2.0"/><rect x="732.5" y="400.5" width="3.0" height="2.0"/><rect x="735.5" y="400.5" width="3.0" height="2.0"/><rect x="738.5" y="400.5" width="3.0" height="2.0"/><rect x="741.5" y="400.5" width="3.0" height="3.0"/><rect x="744.5" y="400.5" width="3.0" height="4.0"/><rect x="747.5" y="400.5" width="3.0" height="5.0"/><rect x="750.5" y="400.5" width="3.0" height="6.0"/><rect x="753.5" y="400.5" width="3.0" height="8.0"/><rect x="756.5" y="400.5" width="3.0" height="10.0"/><rect x="759.5" y="400.5" width="3.0" height="11.0"/><rect x="762.5" y="400.5" width="3.0" height="11.0"/><rect x="765.5" y="400.5" width="4.0" height="11.0"/><rect x="769.5" y="400.5" width="3.0" height="11.0"/><rect x="772.5" y="400.5" width="3.0" height="9.0"/><rect x="775.5" y="400.5" width="3.0" height="7.0"/><rect x="778.5" y="400.5" width="3.0" height="5.0"/><rect x="781.5" y="400.5" width="3.0" height="3.0"/><path d="M784.5 400.5H787.5"/><rect x="787.5" y="399.5" width="3.0" height="1.0"/></g>
<polyline points="17.0,405.8 25.0,413.2 35.0,422.0 45.0,428.2 55.0,431.5 62.5,431.5 72.5,428.2 85.0,425.8 97.5,422.8 110.0,418.2 122.5,412.0 135.0,407.0 145.0,405.8 155.0,400.8 162.5,399.0 170.0,402.0 180.0,408.2 190.0,413.2 200.0,415.8 207.5,413.2 215.0,409.5 225.0,405.8 235.0,399.5 245.0,393.2 252.5,389.5 260.0,384.0 267.5,375.8 275.0,372.0 285.0,370.8 295.0,372.5 305.0,370.8 315.0,367.5 323.8,365.8 330.0,366.5 337.5,370.0 345.0,374.5 352.5,379.5 360.0,387.0 367.5,395.8 375.0,403.2 382.5,407.5 390.0,410.0 400.0,411.5 410.0,412.5 420.0,411.5 430.0,409.0 440.0,404.5 447.5,401.5 455.0,402.0 465.0,402.0 475.0,400.2 485.0,399.5 492.5,402.0 500.0,405.8 510.0,410.8 517.5,415.8 525.0,418.2 535.0,415.8 542.5,414.5 552.5,417.5 562.5,420.0 572.5,420.0 582.5,419.0 590.0,416.5 597.5,412.0 605.0,406.5 612.5,401.5 620.0,396.5 627.5,392.0 635.0,388.8 642.5,386.5 650.0,384.0 657.5,381.5 665.0,380.0 672.5,380.8 680.0,382.0 687.5,385.0 695.0,388.2 702.5,392.0 710.0,395.8 717.5,398.2 725.0,398.8 732.5,399.5 740.0,400.0 747.5,402.0 753.8,404.5 760.0,408.0 765.0,414.5 772.5,420.0 778.8,422.8 785.0,422.8 788.0,422.0" fill="none" stroke="#f01414" stroke-width="1.15" stroke-linejoin="round"/>
<polyline points="17.0,416.5 22.5,419.5 30.0,427.0 37.5,433.0 43.8,435.0 50.0,433.0 60.0,432.0 67.5,426.5 73.8,424.5 82.5,427.0 90.0,424.5 100.0,420.0 110.0,414.5 117.5,409.5 125.0,407.0 131.0,402.8 135.0,402.8 140.0,404.5 146.0,400.8 152.5,394.5 157.5,394.0 162.5,399.5 170.0,405.8 177.5,412.0 185.0,416.5 193.8,419.0 201.2,418.2 206.0,410.8 210.0,404.5 215.0,400.8 222.5,400.8 227.5,398.2 232.5,392.0 240.0,389.0 247.5,384.5 253.8,380.8 260.0,373.2 267.5,366.5 275.0,368.2 282.5,370.0 288.8,374.0 297.5,371.5 305.0,369.0 312.5,366.5 318.8,363.2 323.8,362.5 328.8,367.0 335.0,374.5 342.5,380.8 350.0,387.0 356.2,395.8 361.2,402.0 367.5,408.2 375.0,412.8 382.5,414.0 387.5,412.8 392.5,410.0 397.5,412.8 403.8,415.0 410.0,412.8 415.0,409.5 420.0,411.5 425.0,410.0 432.5,403.2 440.0,398.2 446.2,395.8 450.0,400.8 457.5,401.5 463.8,404.5 470.0,399.5 475.0,398.2 481.2,397.8 486.2,400.0 492.5,404.5 498.8,409.5 505.0,415.8 510.0,417.0 515.0,420.8 520.0,422.5 525.0,419.5 531.2,414.5 535.0,412.5 540.0,413.2 546.2,419.0 552.5,420.8 560.0,424.5 567.5,420.8 575.0,418.2 580.0,416.5 585.0,415.0 590.0,410.8 596.2,404.5 602.5,400.8 610.0,397.0 615.0,390.8 620.0,385.0 625.0,383.2 635.0,383.2 641.2,381.5 648.8,382.0 652.5,379.0 657.5,378.8 662.5,377.0 666.2,380.8 671.2,382.8 677.5,383.2 685.0,387.0 692.5,390.8 700.0,394.5 707.5,399.0 713.8,402.0 718.8,401.5 725.0,399.0 731.2,401.5 737.5,401.5 743.8,404.5 748.8,405.8 753.8,411.0 760.0,420.5 765.0,425.8 770.0,428.2 773.8,429.0 778.8,425.8 783.8,423.8 788.0,421.5" fill="none" stroke="#111" stroke-width="1.65" stroke-linejoin="round"/>
<polygon points="266.0,472.2 267.5,469.0 269.0,472.2" fill="#6b9a6b"/>
<polygon points="304.8,472.2 306.2,470.8 310.0,470.0 316.2,467.5 322.5,467.8 325.5,470.8 327.0,472.2" fill="#6b9a6b"/>
<polygon points="761.0,501.8 762.5,502.5 769.5,504.0 771.0,501.8" fill="#e0788a"/>
<polyline points="17.0,494.0 21.0,494.5 27.5,499.0 32.5,499.5 37.5,501.5 45.0,501.5 51.0,494.5 55.0,498.8 60.0,499.5 63.8,492.5 67.5,491.5 72.5,493.2 77.5,498.2 85.0,497.0 90.0,492.5 97.5,494.0 103.8,492.0 110.0,487.0 113.8,488.2 118.0,483.2 125.0,490.0 131.2,480.8 135.0,488.2 138.8,491.5 145.0,483.2 153.8,477.5 160.0,489.5 162.5,491.5 165.0,489.0 172.5,495.0 177.5,496.5 182.5,493.2 187.5,496.5 192.5,494.5 196.2,495.0 198.8,492.0 201.2,493.2 203.8,488.2 208.8,477.5 213.8,483.2 220.0,485.8 226.2,488.2 230.0,478.2 232.5,477.0 236.2,481.5 240.0,480.8 245.0,476.5 247.5,478.2 252.5,474.5 260.0,472.5 267.5,469.0 272.5,478.2 278.8,475.8 283.8,480.8 288.8,480.0 292.5,474.5 301.2,474.0 306.2,470.8 310.0,470.0 316.2,467.5 322.5,467.8 325.5,470.8 330.0,480.8 335.0,483.2 340.0,481.2 346.2,484.5 352.5,482.0 356.2,494.5 360.0,497.0 366.2,496.2 371.2,499.0 376.2,494.5 381.2,495.2 386.2,490.2 390.0,488.2 393.8,491.5 398.8,498.2 402.5,495.8 406.2,489.5 409.2,491.5 412.0,485.8 415.0,488.2 418.2,494.5 425.0,487.0 431.2,482.0 437.5,479.5 445.0,483.2 450.0,491.5 455.0,489.5 461.2,491.5 467.5,481.5 472.5,481.5 480.0,484.5 487.5,490.8 492.5,495.0 495.0,492.5 501.2,498.2 507.5,496.5 510.0,497.0 517.0,501.2 521.2,494.5 526.2,488.2 530.0,490.0 535.0,485.8 538.0,493.2 540.5,490.8 546.2,496.5 551.2,497.0 555.0,495.2 560.0,497.0 566.2,491.5 575.0,491.5 578.0,487.0 581.2,494.0 587.5,485.8 591.2,482.5 600.0,482.5 604.5,480.0 610.0,483.2 616.2,474.5 621.2,474.0 628.8,479.0 635.0,478.2 641.2,474.5 645.0,478.2 648.8,478.2 653.0,472.5 656.2,474.5 662.5,472.5 665.5,485.8 673.8,478.8 680.0,484.0 685.0,482.8 690.0,486.5 697.5,485.8 702.5,490.8 707.5,489.5 711.2,492.0 716.2,488.2 721.2,481.5 724.5,484.5 727.0,484.5 730.0,489.5 736.2,485.8 742.5,493.2 745.0,488.2 751.2,495.8 756.2,499.5 762.5,502.5 769.5,504.0 772.5,500.8 776.2,493.8 780.0,493.2 782.5,492.0 785.8,494.5 788.0,492.5" fill="none" stroke="#222" stroke-width="1.15" stroke-linejoin="round"/>
<polyline points="17.0,603.0 22.0,605.0 27.0,608.6 44.0,609.4 48.0,607.0 52.0,603.0 56.0,601.0 60.0,604.0 63.0,603.0 67.0,593.0 71.0,577.0 74.0,566.6 77.0,569.0 80.0,583.0 84.0,597.0 87.0,602.0 90.0,597.0 94.0,587.0 98.0,582.6 103.0,583.4 108.0,581.0 111.0,575.0 114.0,565.0 117.0,552.0 120.0,544.0 123.0,542.6 126.0,546.0 129.6,551.4 133.0,553.0 136.0,555.0 139.0,565.0 142.4,578.0 145.6,584.6 148.0,581.0 151.0,565.0 154.0,550.0 157.0,542.6 160.0,547.0 163.0,565.0 166.0,585.0 169.0,597.0 173.0,603.0 177.0,606.6 181.0,608.0 185.0,606.0 189.0,605.0 193.0,606.4 197.0,605.4 201.0,602.6 204.4,596.0 207.0,583.0 211.0,565.0 215.0,552.0 218.0,552.0 222.0,559.0 226.0,568.0 229.0,572.6 232.0,568.0 235.0,557.0 239.0,548.0 243.0,546.0 247.0,544.0 252.0,541.4 257.0,540.0 263.0,537.4 268.0,536.8 272.0,540.0 276.0,547.0 280.0,553.0 285.0,557.0 289.0,562.0 292.0,562.0 296.0,555.0 300.0,545.0 304.0,537.4 307.0,536.8 323.0,536.8 327.0,538.6 330.0,543.0 333.0,552.0 336.0,567.0 339.0,581.0 342.0,589.0 346.0,594.0 350.0,601.0 354.0,605.0 359.0,605.6 364.0,608.0 369.0,609.0 374.0,608.0 379.0,604.0 384.0,601.0 388.0,597.0 392.0,591.0 396.0,588.0 400.0,594.0 403.4,600.0 405.0,599.0 408.0,593.0 411.6,579.0 415.0,567.0 418.0,561.0 421.0,567.0 425.0,578.0 428.0,575.0 431.0,564.0 434.0,551.0 437.0,542.6 441.0,538.6 444.0,539.4 448.0,546.0 451.0,559.0 454.0,571.0 457.0,581.0 460.0,587.0 463.6,590.0 467.0,587.0 470.0,575.0 473.0,564.0 476.0,557.0 480.0,556.0 484.0,561.0 487.0,569.0 490.0,583.0 493.0,597.0 496.0,604.0 500.0,605.0 505.0,606.6 510.0,606.0 515.0,606.6 520.0,607.6 523.0,605.0 526.0,597.0 529.0,586.0 532.0,575.0 535.0,566.0 538.0,563.0 541.0,565.0 544.0,576.0 547.4,591.0 551.0,601.0 554.4,606.6 558.0,607.4 562.0,606.0 566.0,602.0 570.0,597.0 575.0,591.0 579.0,585.0 583.0,581.0 588.0,579.0 591.0,569.0 594.0,556.0 597.0,544.0 600.0,539.4 604.0,538.6 608.0,540.0 612.0,542.0 617.0,540.0 622.0,538.0 626.0,539.0 630.0,544.0 634.0,552.0 637.0,554.6 641.0,550.0 645.0,545.4 650.0,546.0 655.0,543.0 659.0,541.0 663.0,541.0 666.0,549.0 669.0,561.0 672.0,574.0 674.6,576.6 678.0,572.0 682.0,565.0 685.0,570.0 688.0,580.0 692.0,588.0 696.0,594.0 700.0,596.0 704.0,601.0 708.0,605.0 712.0,607.0 716.0,603.0 719.0,593.0 722.0,577.0 725.0,563.0 728.0,558.6 731.0,561.0 735.0,572.0 739.0,581.0 743.0,589.0 748.0,597.0 752.0,601.0 756.0,606.6 760.0,609.0 771.0,609.4 775.0,608.0 779.0,600.0 783.0,591.0 786.0,587.0 788.6,584.6" fill="none" stroke="#f01414" stroke-width="1.15" stroke-linejoin="round"/>
<polyline points="17.0,602.0 20.0,605.0 23.6,609.4 43.0,609.4 46.0,608.0 49.0,604.0 51.6,599.6 54.4,599.6 57.4,603.0 60.0,609.4 63.0,599.0 66.0,581.0 70.0,561.4 73.0,559.6 76.0,577.0 79.0,595.0 82.4,607.0 85.6,604.0 88.4,593.0 91.0,588.0 94.0,581.0 98.0,582.6 103.0,584.0 107.0,579.0 110.0,569.0 113.0,557.0 116.0,546.0 119.0,540.0 122.4,543.0 125.6,555.0 128.6,555.0 131.0,550.6 134.0,550.4 136.6,565.0 139.0,583.0 140.6,594.4 144.4,589.0 147.0,569.0 149.4,550.0 152.0,540.0 154.5,538.0 157.0,543.0 159.0,557.0 162.0,581.0 165.0,598.0 168.0,602.6 171.0,603.6 174.0,609.0 177.0,609.4 180.0,607.0 184.0,604.4 187.0,604.4 190.0,606.0 193.0,607.0 196.0,604.0 199.6,602.4 202.4,598.0 205.0,586.0 208.0,561.0 211.0,546.4 214.0,548.0 218.0,559.0 222.0,569.0 227.0,576.4 230.0,567.0 233.0,553.0 236.4,542.6 240.0,547.0 243.0,547.0 246.0,542.0 250.0,540.4 256.0,540.0 259.0,536.8 268.0,536.8 271.0,540.0 274.0,549.0 276.4,555.0 280.0,554.0 284.0,558.0 288.6,567.0 291.0,561.0 294.0,553.0 298.6,536.8 320.0,536.8 325.0,538.0 328.0,543.0 330.6,552.0 333.0,567.0 335.4,583.0 338.6,590.6 342.0,591.6 345.0,595.0 347.6,601.0 350.6,607.4 354.0,604.6 357.0,604.6 360.0,606.4 363.0,609.0 369.0,608.4 373.0,608.0 377.0,604.0 381.0,600.0 385.0,599.4 388.0,594.0 391.0,588.0 393.6,585.6 396.0,591.0 399.0,602.0 403.0,603.2 406.0,591.0 409.6,579.0 412.4,561.0 415.6,556.6 418.4,567.0 421.6,583.0 424.4,585.0 427.6,565.0 430.4,549.0 433.6,541.0 436.6,536.8 440.0,537.4 443.0,542.0 446.4,547.0 449.6,562.0 452.6,577.0 455.6,587.0 458.4,587.6 461.6,592.0 464.4,592.0 467.4,581.0 470.4,561.0 473.6,552.6 477.0,557.0 480.0,559.0 483.0,564.0 486.0,575.0 489.0,593.0 492.4,607.0 496.0,604.0 501.0,604.4 504.4,608.0 509.0,606.4 514.0,606.6 518.0,609.0 521.0,608.0 524.0,601.0 526.4,589.0 529.6,573.0 532.6,564.0 535.6,557.6 538.4,563.0 541.6,571.0 544.4,594.0 547.4,600.0 551.0,609.0 556.0,606.6 560.0,606.4 563.4,604.6 566.6,599.0 569.6,593.0 575.0,589.6 578.0,576.6 581.0,582.0 585.0,578.0 588.4,577.0 591.6,554.0 594.6,540.0 597.4,537.4 600.0,539.0 603.4,538.4 607.0,540.6 610.6,542.4 614.0,541.4 618.6,536.8 622.0,536.8 625.4,539.0 628.6,546.0 632.0,553.4 635.0,556.0 638.0,551.0 641.0,545.0 643.6,544.4 646.6,547.0 649.4,547.0 652.6,542.6 656.0,540.4 662.6,540.4 665.0,551.0 668.0,569.0 671.4,586.0 674.0,571.0 677.4,560.6 680.0,562.0 683.0,576.0 686.0,583.0 689.4,588.6 692.4,593.0 695.6,598.0 698.6,598.0 702.0,601.0 705.0,605.0 708.0,607.0 711.0,607.0 714.0,605.0 717.0,598.0 719.4,581.0 721.6,567.0 724.0,557.0 726.4,548.4 728.0,559.0 730.0,571.0 732.6,578.0 736.0,580.0 739.0,582.0 742.0,589.0 746.0,599.0 749.0,601.0 751.4,601.4 754.6,609.4 770.0,609.4 773.4,607.0 776.6,600.0 779.4,591.0 782.4,585.0 785.4,584.0 788.0,582.6" fill="none" stroke="#111" stroke-width="1.65" stroke-linejoin="round"/>
<rect x="17.5" y="357" width="246" height="12" fill="#fff"/>
<line x1="19" y1="362" x2="28" y2="362" stroke="#000" stroke-width="2.5"/>
<text x="32.00" y="366.00" font-family='"DejaVu Sans", Verdana, "Liberation Sans", sans-serif' font-size="9" stroke="#000" stroke-width="0.1" textLength="130.60" lengthAdjust="spacingAndGlyphs">MACD(12,26,9) -0.0041</text>
<text x="164.40" y="366.00" font-family='"DejaVu Sans", Verdana, "Liberation Sans", sans-serif' font-size="9" fill="#f01414" stroke="#f01414" stroke-width="0.1" textLength="50.40" lengthAdjust="spacingAndGlyphs">, -0.0044</text>
<text x="216.60" y="366.00" font-family='"DejaVu Sans", Verdana, "Liberation Sans", sans-serif' font-size="9" fill="#3b8fc4" stroke="#3b8fc4" stroke-width="0.1" textLength="45.60" lengthAdjust="spacingAndGlyphs">, 0.0002</text>
<rect x="17.5" y="444" width="95" height="12" fill="#fff"/>
<path d="M19 453.5l2.2-6.5 1.8 3.5 2.2-5.5 2.3 8.5z" fill="#6b9a6b" stroke="#2f4f2f" stroke-width="0.8"/>
<text x="32.00" y="452.20" font-family='"DejaVu Sans", Verdana, "Liberation Sans", sans-serif' font-size="9" stroke="#000" stroke-width="0.1" textLength="78.00" lengthAdjust="spacingAndGlyphs">RSI(14) 42.07</text>
<rect x="17.5" y="531" width="226" height="12" fill="#fff"/>
<line x1="19" y1="536.4" x2="28" y2="536.4" stroke="#000" stroke-width="2.5"/>
<text x="31.60" y="540.00" font-family='"DejaVu Sans", Verdana, "Liberation Sans", sans-serif' font-size="9" stroke="#000" stroke-width="0.1" textLength="175.40" lengthAdjust="spacingAndGlyphs">Slow STO %K(14) %D(3) 37.94,</text>
<text x="212.40" y="540.00" font-family='"DejaVu Sans", Verdana, "Liberation Sans", sans-serif' font-size="9" fill="#f01414" stroke="#f01414" stroke-width="0.1" textLength="30.60" lengthAdjust="spacingAndGlyphs">35.60</text>
<rect x="16.5" y="355.5" width="778.0" height="261.0" fill="none" stroke="#b0b0b0"/>
<path d="M17.5 617v1 M20.5 617v1 M23.5 617v1 M26.5 617v1 M30.5 617v1 M33.5 617v1 M36.5 617v1 M39.5 617v1 M42.5 617v1 M45.5 617v1 M48.5 617v1 M51.5 617v1 M54.5 617v1 M57.5 617v1 M60.5 617v1 M63.5 617v1 M67.5 617v1 M70.5 617v1 M73.5 617v1 M76.5 617v1 M79.5 617v1 M82.5 617v1 M85.5 617v1 M88.5 617v1 M91.5 617v1 M94.5 617v1 M97.5 617v1 M100.5 617v1 M104.5 617v1 M107.5 617v1 M110.5 617v1 M113.5 617v1 M116.5 617v1 M119.5 617v1 M122.5 617v1 M125.5 617v1 M128.5 617v1 M131.5 617v1 M134.5 617v1 M137.5 617v1 M141.5 617v1 M144.5 617v1 M147.5 617v1 M150.5 617v1 M153.5 617v1 M156.5 617v1 M159.5 617v1 M162.5 617v1 M165.5 617v1 M168.5 617v1 M171.5 617v1 M174.5 617v1 M178.5 617v1 M181.5 617v1 M184.5 617v1 M187.5 617v1 M190.5 617v1 M193.5 617v1 M196.5 617v1 M199.5 617v1 M202.5 617v1 M205.5 617v1 M208.5 617v1 M211.5 617v1 M215.5 617v1 M218.5 617v1 M221.5 617v1 M224.5 617v1 M227.5 617v1 M230.5 617v1 M233.5 617v1 M236.5 617v1 M239.5 617v1 M242.5 617v1 M245.5 617v1 M248.5 617v1 M252.5 617v1 M255.5 617v1 M258.5 617v1 M261.5 617v1 M264.5 617v1 M267.5 617v1 M270.5 617v1 M273.5 617v1 M276.5 617v1 M279.5 617v1 M282.5 617v1 M285.5 617v1 M289.5 617v1 M292.5 617v1 M295.5 617v1 M298.5 617v1 M301.5 617v1 M304.5 617v1 M307.5 617v1 M310.5 617v1 M313.5 617v1 M316.5 617v1 M319.5 617v1 M322.5 617v1 M326.5 617v1 M329.5 617v1 M332.5 617v1 M335.5 617v1 M338.5 617v1 M341.5 617v1 M344.5 617v1 M347.5 617v1 M350.5 617v1 M353.5 617v1 M356.5 617v1 M359.5 617v1 M363.5 617v1 M366.5 617v1 M369.5 617v1 M372.5 617v1 M375.5 617v1 M378.5 617v1 M381.5 617v1 M384.5 617v1 M387.5 617v1 M390.5 617v1 M393.5 617v1 M396.5 617v1 M400.5 617v1 M403.5 617v1 M406.5 617v1 M409.5 617v1 M412.5 617v1 M415.5 617v1 M418.5 617v1 M421.5 617v1 M424.5 617v1 M427.5 617v1 M430.5 617v1 M433.5 617v1 M437.5 617v1 M440.5 617v1 M443.5 617v1 M446.5 617v1 M449.5 617v1 M452.5 617v1 M455.5 617v1 M458.5 617v1 M461.5 617v1 M464.5 617v1 M467.5 617v1 M470.5 617v1 M474.5 617v1 M477.5 617v1 M480.5 617v1 M483.5 617v1 M486.5 617v1 M489.5 617v1 M492.5 617v1 M495.5 617v1 M498.5 617v1 M501.5 617v1 M504.5 617v1 M507.5 617v1 M511.5 617v1 M514.5 617v1 M517.5 617v1 M520.5 617v1 M523.5 617v1 M526.5 617v1 M529.5 617v1 M532.5 617v1 M535.5 617v1 M538.5 617v1 M541.5 617v1 M544.5 617v1 M548.5 617v1 M551.5 617v1 M554.5 617v1 M557.5 617v1 M560.5 617v1 M563.5 617v1 M566.5 617v1 M569.5 617v1 M572.5 617v1 M575.5 617v1 M578.5 617v1 M581.5 617v1 M585.5 617v1 M588.5 617v1 M591.5 617v1 M594.5 617v1 M597.5 617v1 M600.5 617v1 M603.5 617v1 M606.5 617v1 M609.5 617v1 M612.5 617v1 M615.5 617v1 M619.5 617v1 M622.5 617v1 M625.5 617v1 M628.5 617v1 M631.5 617v1 M634.5 617v1 M637.5 617v1 M640.5 617v1 M643.5 617v1 M646.5 617v1 M649.5 617v1 M652.5 617v1 M656.5 617v1 M659.5 617v1 M662.5 617v1 M665.5 617v1 M668.5 617v1 M671.5 617v1 M674.5 617v1 M677.5 617v1 M680.5 617v1 M683.5 617v1 M686.5 617v1 M689.5 617v1 M693.5 617v1 M696.5 617v1 M699.5 617v1 M702.5 617v1 M705.5 617v1 M708.5 617v1 M711.5 617v1 M714.5 617v1 M717.5 617v1 M720.5 617v1 M723.5 617v1 M726.5 617v1 M730.5 617v1 M733.5 617v1 M736.5 617v1 M739.5 617v1 M742.5 617v1 M745.5 617v1 M748.5 617v1 M751.5 617v1 M754.5 617v1 M757.5 617v1 M760.5 617v1 M763.5 617v1 M767.5 617v1 M770.5 617v1 M773.5 617v1 M776.5 617v1 M779.5 617v1 M782.5 617v1 M785.5 617v1 M788.5 617v1" stroke="#b8b8b8" stroke-width="1" fill="none"/>
<path d="M17.5 354v1 M20.5 354v1 M23.5 354v1 M26.5 354v1 M30.5 354v1 M33.5 354v1 M36.5 354v1 M39.5 354v1 M42.5 354v1 M45.5 354v1 M48.5 354v1 M51.5 354v1 M54.5 354v1 M57.5 354v1 M60.5 354v1 M63.5 354v1 M67.5 354v1 M70.5 354v1 M73.5 354v1 M76.5 354v1 M79.5 354v1 M82.5 354v1 M85.5 354v1 M88.5 354v1 M91.5 354v1 M94.5 354v1 M97.5 354v1 M100.5 354v1 M104.5 354v1 M107.5 354v1 M110.5 354v1 M113.5 354v1 M116.5 354v1 M119.5 354v1 M122.5 354v1 M125.5 354v1 M128.5 354v1 M131.5 354v1 M134.5 354v1 M137.5 354v1 M141.5 354v1 M144.5 354v1 M147.5 354v1 M150.5 354v1 M153.5 354v1 M156.5 354v1 M159.5 354v1 M162.5 354v1 M165.5 354v1 M168.5 354v1 M171.5 354v1 M174.5 354v1 M178.5 354v1 M181.5 354v1 M184.5 354v1 M187.5 354v1 M190.5 354v1 M193.5 354v1 M196.5 354v1 M199.5 354v1 M202.5 354v1 M205.5 354v1 M208.5 354v1 M211.5 354v1 M215.5 354v1 M218.5 354v1 M221.5 354v1 M224.5 354v1 M227.5 354v1 M230.5 354v1 M233.5 354v1 M236.5 354v1 M239.5 354v1 M242.5 354v1 M245.5 354v1 M248.5 354v1 M252.5 354v1 M255.5 354v1 M258.5 354v1 M261.5 354v1 M264.5 354v1 M267.5 354v1 M270.5 354v1 M273.5 354v1 M276.5 354v1 M279.5 354v1 M282.5 354v1 M285.5 354v1 M289.5 354v1 M292.5 354v1 M295.5 354v1 M298.5 354v1 M301.5 354v1 M304.5 354v1 M307.5 354v1 M310.5 354v1 M313.5 354v1 M316.5 354v1 M319.5 354v1 M322.5 354v1 M326.5 354v1 M329.5 354v1 M332.5 354v1 M335.5 354v1 M338.5 354v1 M341.5 354v1 M344.5 354v1 M347.5 354v1 M350.5 354v1 M353.5 354v1 M356.5 354v1 M359.5 354v1 M363.5 354v1 M366.5 354v1 M369.5 354v1 M372.5 354v1 M375.5 354v1 M378.5 354v1 M381.5 354v1 M384.5 354v1 M387.5 354v1 M390.5 354v1 M393.5 354v1 M396.5 354v1 M400.5 354v1 M403.5 354v1 M406.5 354v1 M409.5 354v1 M412.5 354v1 M415.5 354v1 M418.5 354v1 M421.5 354v1 M424.5 354v1 M427.5 354v1 M430.5 354v1 M433.5 354v1 M437.5 354v1 M440.5 354v1 M443.5 354v1 M446.5 354v1 M449.5 354v1 M452.5 354v1 M455.5 354v1 M458.5 354v1 M461.5 354v1 M464.5 354v1 M467.5 354v1 M470.5 354v1 M474.5 354v1 M477.5 354v1 M480.5 354v1 M483.5 354v1 M486.5 354v1 M489.5 354v1 M492.5 354v1 M495.5 354v1 M498.5 354v1 M501.5 354v1 M504.5 354v1 M507.5 354v1 M511.5 354v1 M514.5 354v1 M517.5 354v1 M520.5 354v1 M523.5 354v1 M526.5 354v1 M529.5 354v1 M532.5 354v1 M535.5 354v1 M538.5 354v1 M541.5 354v1 M544.5 354v1 M548.5 354v1 M551.5 354v1 M554.5 354v1 M557.5 354v1 M560.5 354v1 M563.5 354v1 M566.5 354v1 M569.5 354v1 M572.5 354v1 M575.5 354v1 M578.5 354v1 M581.5 354v1 M585.5 354v1 M588.5 354v1 M591.5 354v1 M594.5 354v1 M597.5 354v1 M600.5 354v1 M603.5 354v1 M606.5 354v1 M609.5 354v1 M612.5 354v1 M615.5 354v1 M619.5 354v1 M622.5 354v1 M625.5 354v1 M628.5 354v1 M631.5 354v1 M634.5 354v1 M637.5 354v1 M640.5 354v1 M643.5 354v1 M646.5 354v1 M649.5 354v1 M652.5 354v1 M656.5 354v1 M659.5 354v1 M662.5 354v1 M665.5 354v1 M668.5 354v1 M671.5 354v1 M674.5 354v1 M677.5 354v1 M680.5 354v1 M683.5 354v1 M686.5 354v1 M689.5 354v1 M693.5 354v1 M696.5 354v1 M699.5 354v1 M702.5 354v1 M705.5 354v1 M708.5 354v1 M711.5 354v1 M714.5 354v1 M717.5 354v1 M720.5 354v1 M723.5 354v1 M726.5 354v1 M730.5 354v1 M733.5 354v1 M736.5 354v1 M739.5 354v1 M742.5 354v1 M745.5 354v1 M748.5 354v1 M751.5 354v1 M754.5 354v1 M757.5 354v1 M760.5 354v1 M763.5 354v1 M767.5 354v1 M770.5 354v1 M773.5 354v1 M776.5 354v1 M779.5 354v1 M782.5 354v1 M785.5 354v1 M788.5 354v1" stroke="#b8b8b8" stroke-width="1" fill="none"/>
<text x="73.50" y="626.80" font-family='"DejaVu Sans", Verdana, "Liberation Sans", sans-serif' font-size="9" text-anchor="middle" stroke="#000" stroke-width="0.1" textLength="17.00" lengthAdjust="spacingAndGlyphs">Sep</text>
<text x="135.18" y="626.80" font-family='"DejaVu Sans", Verdana, "Liberation Sans", sans-serif' font-size="9" text-anchor="middle" stroke="#000" stroke-width="0.1" textLength="17.00" lengthAdjust="spacingAndGlyphs">Oct</text>
<text x="203.02" y="626.80" font-family='"DejaVu Sans", Verdana, "Liberation Sans", sans-serif' font-size="9" text-anchor="middle" stroke="#000" stroke-width="0.1" textLength="17.00" lengthAdjust="spacingAndGlyphs">Nov</text>
<text x="267.77" y="626.80" font-family='"DejaVu Sans", Verdana, "Liberation Sans", sans-serif' font-size="9" text-anchor="middle" stroke="#000" stroke-width="0.1" textLength="17.00" lengthAdjust="spacingAndGlyphs">Dec</text>
<text x="329.14" y="627.10" font-family='"Liberation Sans", Arial, Helvetica, sans-serif' font-size="11" font-weight="bold" text-anchor="middle" textLength="24.50" lengthAdjust="spacingAndGlyphs">2024</text>
<text x="394.20" y="626.80" font-family='"DejaVu Sans", Verdana, "Liberation Sans", sans-serif' font-size="9" text-anchor="middle" stroke="#000" stroke-width="0.1" textLength="17.00" lengthAdjust="spacingAndGlyphs">Feb</text>
<text x="455.87" y="626.80" font-family='"DejaVu Sans", Verdana, "Liberation Sans", sans-serif' font-size="9" text-anchor="middle" stroke="#000" stroke-width="0.1" textLength="17.50" lengthAdjust="spacingAndGlyphs">Mar</text>
<text x="517.54" y="626.80" font-family='"DejaVu Sans", Verdana, "Liberation Sans", sans-serif' font-size="9" text-anchor="middle" stroke="#000" stroke-width="0.1" textLength="17.00" lengthAdjust="spacingAndGlyphs">Apr</text>
<text x="585.38" y="626.80" font-family='"DejaVu Sans", Verdana, "Liberation Sans", sans-serif' font-size="9" text-anchor="middle" stroke="#000" stroke-width="0.1" textLength="18.50" lengthAdjust="spacingAndGlyphs">May</text>
<text x="653.22" y="626.80" font-family='"DejaVu Sans", Verdana, "Liberation Sans", sans-serif' font-size="9" text-anchor="middle" stroke="#000" stroke-width="0.1" textLength="16.50" lengthAdjust="spacingAndGlyphs">Jun</text>
<text x="711.81" y="626.80" font-family='"DejaVu Sans", Verdana, "Liberation Sans", sans-serif' font-size="9" text-anchor="middle" stroke="#000" stroke-width="0.1" textLength="14.00" lengthAdjust="spacingAndGlyphs">Jul</text>
<text x="779.65" y="626.80" font-family='"DejaVu Sans", Verdana, "Liberation Sans", sans-serif' font-size="9" text-anchor="middle" stroke="#000" stroke-width="0.1" textLength="17.50" lengthAdjust="spacingAndGlyphs">Aug</text>
<line x1="794.5" y1="362.5" x2="797.0" y2="362.5" stroke="#b0b0b0" stroke-width="1"/>
<text x="800.80" y="365.10" font-family='"Liberation Sans", Arial, Helvetica, sans-serif' font-size="10" textLength="32.50" lengthAdjust="spacingAndGlyphs">0.0075</text>
<line x1="794.5" y1="375.5" x2="797.0" y2="375.5" stroke="#b0b0b0" stroke-width="1"/>
<text x="800.80" y="378.10" font-family='"Liberation Sans", Arial, Helvetica, sans-serif' font-size="10" textLength="32.50" lengthAdjust="spacingAndGlyphs">0.0050</text>
<line x1="794.5" y1="388.5" x2="797.0" y2="388.5" stroke="#b0b0b0" stroke-width="1"/>
<text x="800.80" y="391.10" font-family='"Liberation Sans", Arial, Helvetica, sans-serif' font-size="10" textLength="32.50" lengthAdjust="spacingAndGlyphs">0.0025</text>
<line x1="794.5" y1="400.5" x2="797.0" y2="400.5" stroke="#b0b0b0" stroke-width="1"/>
<text x="800.80" y="403.10" font-family='"Liberation Sans", Arial, Helvetica, sans-serif' font-size="10" textLength="32.50" lengthAdjust="spacingAndGlyphs">0.0000</text>
<line x1="794.5" y1="413.5" x2="797.0" y2="413.5" stroke="#b0b0b0" stroke-width="1"/>
<text x="797.60" y="416.10" font-family='"Liberation Sans", Arial, Helvetica, sans-serif' font-size="10" textLength="36.00" lengthAdjust="spacingAndGlyphs">-0.0025</text>
<line x1="794.5" y1="425.5" x2="797.0" y2="425.5" stroke="#b0b0b0" stroke-width="1"/>
<text x="797.60" y="428.10" font-family='"Liberation Sans", Arial, Helvetica, sans-serif' font-size="10" textLength="36.00" lengthAdjust="spacingAndGlyphs">-0.0050</text>
<line x1="794.5" y1="438.5" x2="797.0" y2="438.5" stroke="#b0b0b0" stroke-width="1"/>
<text x="797.60" y="441.10" font-family='"Liberation Sans", Arial, Helvetica, sans-serif' font-size="10" textLength="36.00" lengthAdjust="spacingAndGlyphs">-0.0075</text>
<line x1="794.5" y1="456.5" x2="797.0" y2="456.5" stroke="#b0b0b0" stroke-width="1"/>
<text x="796.80" y="459.10" font-family='"Liberation Sans", Arial, Helvetica, sans-serif' font-size="10" textLength="12.30" lengthAdjust="spacingAndGlyphs">90</text>
<line x1="794.5" y1="471.5" x2="797.0" y2="471.5" stroke="#b0b0b0" stroke-width="1"/>
<text x="796.80" y="474.10" font-family='"Liberation Sans", Arial, Helvetica, sans-serif' font-size="10" textLength="12.30" lengthAdjust="spacingAndGlyphs">70</text>
<line x1="794.5" y1="486.5" x2="797.0" y2="486.5" stroke="#b0b0b0" stroke-width="1"/>
<text x="796.80" y="489.10" font-family='"Liberation Sans", Arial, Helvetica, sans-serif' font-size="10" textLength="12.30" lengthAdjust="spacingAndGlyphs">50</text>
<line x1="794.5" y1="501.5" x2="797.0" y2="501.5" stroke="#b0b0b0" stroke-width="1"/>
<text x="796.80" y="504.10" font-family='"Liberation Sans", Arial, Helvetica, sans-serif' font-size="10" textLength="12.30" lengthAdjust="spacingAndGlyphs">30</text>
<line x1="794.5" y1="516.5" x2="797.0" y2="516.5" stroke="#b0b0b0" stroke-width="1"/>
<text x="796.80" y="519.10" font-family='"Liberation Sans", Arial, Helvetica, sans-serif' font-size="10" textLength="12.30" lengthAdjust="spacingAndGlyphs">10</text>
<line x1="794.5" y1="551.5" x2="797.0" y2="551.5" stroke="#b0b0b0" stroke-width="1"/>
<text x="796.80" y="554.10" font-family='"Liberation Sans", Arial, Helvetica, sans-serif' font-size="10" textLength="12.30" lengthAdjust="spacingAndGlyphs">80</text>
<line x1="794.5" y1="573.5" x2="797.0" y2="573.5" stroke="#b0b0b0" stroke-width="1"/>
<text x="796.80" y="576.10" font-family='"Liberation Sans", Arial, Helvetica, sans-serif' font-size="10" textLength="12.30" lengthAdjust="spacingAndGlyphs">50</text>
<line x1="794.5" y1="595.5" x2="797.0" y2="595.5" stroke="#b0b0b0" stroke-width="1"/>
<text x="796.80" y="598.10" font-family='"Liberation Sans", Arial, Helvetica, sans-serif' font-size="10" textLength="12.30" lengthAdjust="spacingAndGlyphs">20</text>
<line x1="938.5" y1="91.5" x2="938.5" y2="341.5" stroke="rgba(0,0,0,0.095)" stroke-width="1"/>
<line x1="913.5" y1="91.5" x2="913.5" y2="341.5" stroke="rgba(0,0,0,0.095)" stroke-width="1"/>
<line x1="888.5" y1="91.5" x2="888.5" y2="341.5" stroke="rgba(0,0,0,0.095)" stroke-width="1"/>
<line x1="863.5" y1="91.5" x2="863.5" y2="341.5" stroke="rgba(0,0,0,0.095)" stroke-width="1"/>
<line x1="928.5" y1="91.5" x2="928.5" y2="341.5" stroke="rgba(0,0,0,0.17)" stroke-width="1"/>
<line x1="855.5" y1="109.5" x2="950.5" y2="109.5" stroke="rgba(0,0,0,0.1)" stroke-width="1"/>
<line x1="855.5" y1="126.5" x2="950.5" y2="126.5" stroke="rgba(0,0,0,0.1)" stroke-width="1"/>
<line x1="855.5" y1="144.5" x2="950.5" y2="144.5" stroke="rgba(0,0,0,0.1)" stroke-width="1"/>
<line x1="855.5" y1="162.5" x2="950.5" y2="162.5" stroke="rgba(0,0,0,0.1)" stroke-width="1"/>
<line x1="855.5" y1="180.5" x2="950.5" y2="180.5" stroke="rgba(0,0,0,0.1)" stroke-width="1"/>
<line x1="855.5" y1="198.5" x2="950.5" y2="198.5" stroke="rgba(0,0,0,0.1)" stroke-width="1"/>
<line x1="855.5" y1="215.5" x2="950.5" y2="215.5" stroke="rgba(0,0,0,0.1)" stroke-width="1"/>
<line x1="855.5" y1="233.5" x2="950.5" y2="233.5" stroke="rgba(0,0,0,0.1)" stroke-width="1"/>
<line x1="855.5" y1="251.5" x2="950.5" y2="251.5" stroke="rgba(0,0,0,0.1)" stroke-width="1"/>
<line x1="855.5" y1="269.5" x2="950.5" y2="269.5" stroke="rgba(0,0,0,0.1)" stroke-width="1"/>
<line x1="855.5" y1="286.5" x2="950.5" y2="286.5" stroke="rgba(0,0,0,0.1)" stroke-width="1"/>
<line x1="855.5" y1="304.5" x2="950.5" y2="304.5" stroke="rgba(0,0,0,0.1)" stroke-width="1"/>
<line x1="855.5" y1="322.5" x2="950.5" y2="322.5" stroke="rgba(0,0,0,0.1)" stroke-width="1"/>
<polyline points="855.5,155.5 872.0,154.4 888.0,152.5 904.0,152.5 913.6,154.0 923.2,155.5 929.6,154.0 943.7,154.0" fill="none" stroke="#d4143c" stroke-width="1.25" stroke-linejoin="round"/>
<polyline points="855.5,128.0 864.0,124.0 873.6,120.5 888.0,120.5 896.0,123.2 905.6,128.0 913.6,133.6 923.2,140.0 932.8,144.8 943.7,150.0" fill="none" stroke="#10109a" stroke-width="1.25" stroke-linejoin="round"/>
<polyline points="855.5,112.0 864.0,119.2 873.6,124.8 881.6,131.2 888.0,139.2 896.0,152.8 904.0,166.4 912.0,179.2 920.0,191.2 928.0,202.4 936.0,215.2 943.7,227.2" fill="none" stroke="#0e6e0e" stroke-width="1.25" stroke-linejoin="round"/>
<polyline points="855.5,122.4 858.7,110.4" fill="none" stroke="#111" stroke-width="1.7" stroke-linejoin="bevel" stroke-linecap="butt"/>
<polyline points="858.7,110.4 863.7,141.0 868.7,171.2" fill="none" stroke="#d4143c" stroke-width="1.7" stroke-linejoin="bevel" stroke-linecap="butt"/>
<polyline points="868.7,171.2 873.7,142.7" fill="none" stroke="#111" stroke-width="1.7" stroke-linejoin="bevel" stroke-linecap="butt"/>
<polyline points="873.7,142.7 878.7,176.0 883.7,205.0 888.7,233.0 893.7,258.5 898.7,278.0 903.7,314.8 908.7,315.1 913.7,322.8" fill="none" stroke="#d4143c" stroke-width="1.7" stroke-linejoin="bevel" stroke-linecap="butt"/>
<polyline points="913.7,322.8 918.7,301.0 923.7,259.5" fill="none" stroke="#111" stroke-width="1.7" stroke-linejoin="bevel" stroke-linecap="butt"/>
<polyline points="923.7,259.5 928.7,260.0" fill="none" stroke="#d4143c" stroke-width="1.7" stroke-linejoin="bevel" stroke-linecap="butt"/>
<polyline points="928.7,260.0 933.7,253.6" fill="none" stroke="#111" stroke-width="1.7" stroke-linejoin="bevel" stroke-linecap="butt"/>
<polyline points="933.7,253.6 938.7,268.0" fill="none" stroke="#d4143c" stroke-width="1.7" stroke-linejoin="bevel" stroke-linecap="butt"/>
<polyline points="938.7,268.0 943.7,256.6" fill="none" stroke="#111" stroke-width="1.7" stroke-linejoin="bevel" stroke-linecap="butt"/>
<path d="M928.7,246.7L933.5,252.6L938.1,246.7" fill="#fff" stroke="#d2d2d2" stroke-width="1"/>
<rect x="918.0" y="237.5" width="30.6" height="9.2" fill="#fff" stroke="#cdcdcd" stroke-width="1"/>
<text x="919.30" y="245.70" font-family='"DejaVu Sans Condensed", "DejaVu Sans", Tahoma, sans-serif' font-size="9.5" textLength="27.30" lengthAdjust="spacingAndGlyphs" stroke="#000" stroke-width="0.3">0.5957</text>
<path d="M908.7,328.29999999999995L913.5,325.4L918.1,328.29999999999995" fill="#fff" stroke="#d2d2d2" stroke-width="1"/>
<rect x="898.0" y="328.3" width="30.6" height="9.2" fill="#fff" stroke="#cdcdcd" stroke-width="1"/>
<text x="899.30" y="336.50" font-family='"DejaVu Sans Condensed", "DejaVu Sans", Tahoma, sans-serif' font-size="9.5" textLength="27.30" lengthAdjust="spacingAndGlyphs" stroke="#000" stroke-width="0.3">0.5879</text>
<rect x="855.5" y="91.5" width="95.0" height="250.0" fill="none" stroke="#b0b0b0"/>
<path d="M858.5 342v1 M863.5 342v1 M868.5 342v1 M873.5 342v1 M878.5 342v1 M883.5 342v1 M888.5 342v1 M893.5 342v1 M898.5 342v1 M903.5 342v1 M908.5 342v1 M913.5 342v1 M918.5 342v1 M923.5 342v1 M928.5 342v1 M933.5 342v1 M938.5 342v1 M943.5 342v1" stroke="#b8b8b8" stroke-width="1" fill="none"/>
<line x1="950.5" y1="109.5" x2="953.0" y2="109.5" stroke="#b0b0b0" stroke-width="1"/>
<text x="954.00" y="112.10" font-family='"Liberation Sans", Arial, Helvetica, sans-serif' font-size="10" textLength="26.60" lengthAdjust="spacingAndGlyphs">0.612</text>
<line x1="950.5" y1="126.5" x2="953.0" y2="126.5" stroke="#b0b0b0" stroke-width="1"/>
<text x="954.00" y="129.10" font-family='"Liberation Sans", Arial, Helvetica, sans-serif' font-size="10" textLength="26.60" lengthAdjust="spacingAndGlyphs">0.610</text>
<line x1="950.5" y1="144.5" x2="953.0" y2="144.5" stroke="#b0b0b0" stroke-width="1"/>
<text x="954.00" y="147.10" font-family='"Liberation Sans", Arial, Helvetica, sans-serif' font-size="10" textLength="26.60" lengthAdjust="spacingAndGlyphs">0.608</text>
<line x1="950.5" y1="162.5" x2="953.0" y2="162.5" stroke="#b0b0b0" stroke-width="1"/>
<text x="954.00" y="165.10" font-family='"Liberation Sans", Arial, Helvetica, sans-serif' font-size="10" textLength="26.60" lengthAdjust="spacingAndGlyphs">0.606</text>
<line x1="950.5" y1="180.5" x2="953.0" y2="180.5" stroke="#b0b0b0" stroke-width="1"/>
<text x="954.00" y="183.10" font-family='"Liberation Sans", Arial, Helvetica, sans-serif' font-size="10" textLength="26.60" lengthAdjust="spacingAndGlyphs">0.604</text>
<line x1="950.5" y1="198.5" x2="953.0" y2="198.5" stroke="#b0b0b0" stroke-width="1"/>
<text x="954.00" y="201.10" font-family='"Liberation Sans", Arial, Helvetica, sans-serif' font-size="10" textLength="26.60" lengthAdjust="spacingAndGlyphs">0.602</text>
<line x1="950.5" y1="215.5" x2="953.0" y2="215.5" stroke="#b0b0b0" stroke-width="1"/>
<text x="954.00" y="218.10" font-family='"Liberation Sans", Arial, Helvetica, sans-serif' font-size="10" textLength="26.60" lengthAdjust="spacingAndGlyphs">0.600</text>
<line x1="950.5" y1="233.5" x2="953.0" y2="233.5" stroke="#b0b0b0" stroke-width="1"/>
<text x="954.00" y="236.10" font-family='"Liberation Sans", Arial, Helvetica, sans-serif' font-size="10" textLength="26.60" lengthAdjust="spacingAndGlyphs">0.598</text>
<line x1="950.5" y1="251.5" x2="953.0" y2="251.5" stroke="#b0b0b0" stroke-width="1"/>
<text x="954.00" y="254.10" font-family='"Liberation Sans", Arial, Helvetica, sans-serif' font-size="10" textLength="26.60" lengthAdjust="spacingAndGlyphs">0.596</text>
<line x1="950.5" y1="269.5" x2="953.0" y2="269.5" stroke="#b0b0b0" stroke-width="1"/>
<text x="954.00" y="272.10" font-family='"Liberation Sans", Arial, Helvetica, sans-serif' font-size="10" textLength="26.60" lengthAdjust="spacingAndGlyphs">0.594</text>
<line x1="950.5" y1="286.5" x2="953.0" y2="286.5" stroke="#b0b0b0" stroke-width="1"/>
<text x="954.00" y="289.10" font-family='"Liberation Sans", Arial, Helvetica, sans-serif' font-size="10" textLength="26.60" lengthAdjust="spacingAndGlyphs">0.592</text>
<line x1="950.5" y1="304.5" x2="953.0" y2="304.5" stroke="#b0b0b0" stroke-width="1"/>
<text x="954.00" y="307.10" font-family='"Liberation Sans", Arial, Helvetica, sans-serif' font-size="10" textLength="26.60" lengthAdjust="spacingAndGlyphs">0.590</text>
<line x1="950.5" y1="322.5" x2="953.0" y2="322.5" stroke="#b0b0b0" stroke-width="1"/>
<text x="954.00" y="325.10" font-family='"Liberation Sans", Arial, Helvetica, sans-serif' font-size="10" textLength="26.60" lengthAdjust="spacingAndGlyphs">0.588</text>
<line x1="950.5" y1="340.5" x2="953.0" y2="340.5" stroke="#b0b0b0" stroke-width="1"/>
<text x="954.00" y="340.60" font-family='"Liberation Sans", Arial, Helvetica, sans-serif' font-size="10" textLength="26.60" lengthAdjust="spacingAndGlyphs">0.586</text>
<path d="M950.5 95.9h2 M950.5 100.3h2 M950.5 104.8h2 M950.5 109.2h2 M950.5 113.6h2 M950.5 118.1h2 M950.5 122.5h2 M950.5 127.0h2 M950.5 131.4h2 M950.5 135.9h2 M950.5 140.3h2 M950.5 144.7h2 M950.5 149.2h2 M950.5 153.6h2 M950.5 158.1h2 M950.5 162.5h2 M950.5 167.0h2 M950.5 171.4h2 M950.5 175.8h2 M950.5 180.3h2 M950.5 184.7h2 M950.5 189.2h2 M950.5 193.6h2 M950.5 198.1h2 M950.5 202.5h2 M950.5 206.9h2 M950.5 211.4h2 M950.5 215.8h2 M950.5 220.3h2 M950.5 224.7h2 M950.5 229.1h2 M950.5 233.6h2 M950.5 238.0h2 M950.5 242.5h2 M950.5 246.9h2 M950.5 251.4h2 M950.5 255.8h2 M950.5 260.2h2 M950.5 264.7h2 M950.5 269.1h2 M950.5 273.6h2 M950.5 278.0h2 M950.5 282.5h2 M950.5 286.9h2 M950.5 291.3h2 M950.5 295.8h2 M950.5 300.2h2 M950.5 304.7h2 M950.5 309.1h2 M950.5 313.6h2 M950.5 318.0h2 M950.5 322.4h2 M950.5 326.9h2 M950.5 331.3h2 M950.5 335.8h2 M950.5 340.2h2" stroke="#b0b0b0" stroke-width="0.8"/>
<path d="M948.0 153.6l4.5-4.9h28.9v9.8h-28.9z" fill="#fff" stroke="#d4143c" stroke-width="1.1" stroke-linejoin="miter"/>
<text x="953.00" y="157.25" font-family='"Liberation Sans", Arial, Helvetica, sans-serif' font-size="10" textLength="26.00" lengthAdjust="spacingAndGlyphs">0.607</text>
<path d="M948.0 149.3l4.5-4.9h28.9v9.8h-28.9z" fill="#fff" stroke="#10109a" stroke-width="1.1" stroke-linejoin="miter"/>
<text x="953.00" y="152.95" font-family='"Liberation Sans", Arial, Helvetica, sans-serif' font-size="10" textLength="26.00" lengthAdjust="spacingAndGlyphs">0.607</text>
<path d="M948.0 226.6l4.5-4.9h28.9v9.8h-28.9z" fill="#fff" stroke="#0e6e0e" stroke-width="1.1" stroke-linejoin="miter"/>
<text x="953.00" y="230.25" font-family='"Liberation Sans", Arial, Helvetica, sans-serif' font-size="10" textLength="26.00" lengthAdjust="spacingAndGlyphs">0.599</text>
<path d="M948.0 255.9l4.5-4.9h28.9v9.8h-28.9z" fill="#fff" stroke="#111" stroke-width="1.1" stroke-linejoin="miter"/>
<text x="953.00" y="259.55" font-family='"Liberation Sans", Arial, Helvetica, sans-serif' font-size="10.8" font-weight="bold" textLength="26.00" lengthAdjust="spacingAndGlyphs">0.595</text>
<text x="857.80" y="351.60" font-family='"Liberation Sans", Arial, Helvetica, sans-serif' font-size="10" textLength="10.90" lengthAdjust="spacingAndGlyphs">15</text>
<text x="882.20" y="351.60" font-family='"Liberation Sans", Arial, Helvetica, sans-serif' font-size="10" textLength="10.90" lengthAdjust="spacingAndGlyphs">22</text>
<text x="907.00" y="351.60" font-family='"Liberation Sans", Arial, Helvetica, sans-serif' font-size="10" textLength="10.90" lengthAdjust="spacingAndGlyphs">29</text>
<text x="919.30" y="351.80" font-family='"Liberation Sans", Arial, Helvetica, sans-serif' font-size="11" font-weight="bold" textLength="21.30" lengthAdjust="spacingAndGlyphs">Aug</text>
<line x1="938.5" y1="355.5" x2="938.5" y2="616.5" stroke="rgba(0,0,0,0.095)" stroke-width="1"/>
<line x1="913.5" y1="355.5" x2="913.5" y2="616.5" stroke="rgba(0,0,0,0.095)" stroke-width="1"/>
<line x1="888.5" y1="355.5" x2="888.5" y2="616.5" stroke="rgba(0,0,0,0.095)" stroke-width="1"/>
<line x1="863.5" y1="355.5" x2="863.5" y2="616.5" stroke="rgba(0,0,0,0.095)" stroke-width="1"/>
<line x1="928.5" y1="355.5" x2="928.5" y2="616.5" stroke="rgba(0,0,0,0.17)" stroke-width="1"/>
<line x1="855.5" y1="365.5" x2="950.5" y2="365.5" stroke="rgba(0,0,0,0.1)" stroke-width="1"/>
<line x1="855.5" y1="377.5" x2="950.5" y2="377.5" stroke="rgba(0,0,0,0.1)" stroke-width="1"/>
<line x1="855.5" y1="389.5" x2="950.5" y2="389.5" stroke="rgba(0,0,0,0.1)" stroke-width="1"/>
<line x1="855.5" y1="401.5" x2="950.5" y2="401.5" stroke="rgba(0,0,0,0.1)" stroke-width="1"/>
<line x1="855.5" y1="413.5" x2="950.5" y2="413.5" stroke="rgba(0,0,0,0.1)" stroke-width="1"/>
<line x1="855.5" y1="425.5" x2="950.5" y2="425.5" stroke="rgba(0,0,0,0.1)" stroke-width="1"/>
<line x1="855.5" y1="437.5" x2="950.5" y2="437.5" stroke="rgba(0,0,0,0.1)" stroke-width="1"/>
<line x1="855.5" y1="442.5" x2="950.5" y2="442.5" stroke="#c8c8c8" stroke-width="1"/>
<line x1="855.5" y1="529.5" x2="950.5" y2="529.5" stroke="#c8c8c8" stroke-width="1"/>
<line x1="855.5" y1="523.5" x2="950.5" y2="523.5" stroke="#e2e2e2" stroke-width="1"/>
<line x1="855.5" y1="610.5" x2="950.5" y2="610.5" stroke="#e2e2e2" stroke-width="1"/>
<line x1="855.5" y1="516.5" x2="950.5" y2="516.5" stroke="#e2e2e2" stroke-width="1"/>
<line x1="855.5" y1="602.5" x2="950.5" y2="602.5" stroke="#e2e2e2" stroke-width="1"/>
<line x1="855.5" y1="508.5" x2="950.5" y2="508.5" stroke="#e2e2e2" stroke-width="1"/>
<line x1="855.5" y1="588.5" x2="950.5" y2="588.5" stroke="#e2e2e2" stroke-width="1"/>
<line x1="855.5" y1="493.5" x2="950.5" y2="493.5" stroke="#e2e2e2" stroke-width="1"/>
<line x1="855.5" y1="580.5" x2="950.5" y2="580.5" stroke="#e2e2e2" stroke-width="1"/>
<line x1="855.5" y1="479.5" x2="950.5" y2="479.5" stroke="#e2e2e2" stroke-width="1"/>
<line x1="855.5" y1="566.5" x2="950.5" y2="566.5" stroke="#e2e2e2" stroke-width="1"/>
<line x1="855.5" y1="558.5" x2="950.5" y2="558.5" stroke="#e2e2e2" stroke-width="1"/>
<line x1="855.5" y1="464.5" x2="950.5" y2="464.5" stroke="#e2e2e2" stroke-width="1"/>
<line x1="855.5" y1="456.5" x2="950.5" y2="456.5" stroke="#e2e2e2" stroke-width="1"/>
<line x1="855.5" y1="544.5" x2="950.5" y2="544.5" stroke="#e2e2e2" stroke-width="1"/>
<line x1="855.5" y1="449.5" x2="950.5" y2="449.5" stroke="#e2e2e2" stroke-width="1"/>
<line x1="855.5" y1="536.5" x2="950.5" y2="536.5" stroke="#e2e2e2" stroke-width="1"/>
<line x1="855.5" y1="471.5" x2="950.5" y2="471.5" stroke="#666" stroke-width="1.2"/>
<line x1="855.5" y1="501.5" x2="950.5" y2="501.5" stroke="#666" stroke-width="1.2"/>
<line x1="855.5" y1="551.5" x2="950.5" y2="551.5" stroke="#666" stroke-width="1.2"/>
<line x1="855.5" y1="595.5" x2="950.5" y2="595.5" stroke="#666" stroke-width="1.2"/>
<line x1="855.5" y1="486.5" x2="950.5" y2="486.5" stroke="#555" stroke-width="1" stroke-dasharray="7 3 3 2"/>
<line x1="855.5" y1="573.5" x2="950.5" y2="573.5" stroke="#555" stroke-width="1" stroke-dasharray="7 3 3 2"/>
<g fill="#58a8d6" stroke="#1d648f" stroke-width="1" shape-rendering="crispEdges"><rect x="855.5" y="365.5" width="3.0" height="4.0"/><rect x="856.5" y="365.5" width="5.0" height="5.0"/><rect x="861.5" y="365.5" width="5.0" height="6.0"/><rect x="866.5" y="365.5" width="5.0" height="9.0"/><rect x="871.5" y="365.5" width="5.0" height="10.0"/><rect x="876.5" y="365.5" width="5.0" height="13.0"/><rect x="881.5" y="365.5" width="5.0" height="16.0"/><rect x="886.5" y="365.5" width="5.0" height="20.0"/><rect x="891.5" y="365.5" width="5.0" height="23.0"/><rect x="896.5" y="365.5" width="5.0" height="26.0"/><rect x="901.5" y="365.5" width="5.0" height="27.0"/><rect x="906.5" y="365.5" width="5.0" height="27.0"/><rect x="911.5" y="365.5" width="5.0" height="27.0"/><rect x="916.5" y="365.5" width="5.0" height="23.0"/><rect x="921.5" y="365.5" width="5.0" height="15.0"/><rect x="926.5" y="365.5" width="5.0" height="8.0"/><rect x="931.5" y="365.5" width="5.0" height="3.0"/><path d="M936.5 365.5H941.5"/><rect x="941.5" y="361.5" width="5.0" height="4.0"/></g>
<polyline points="856.0,364.0 862.5,365.8 870.0,368.2 880.0,374.0 890.0,381.5 900.0,392.0 910.0,404.5 920.0,414.5 927.5,419.0 935.0,420.2 943.7,419.0" fill="none" stroke="#f01414" stroke-width="1.15" stroke-linejoin="round"/>
<polyline points="856.0,367.5 861.2,369.5 868.8,375.0 873.8,375.0 880.0,380.8 888.8,394.5 897.5,410.8 905.0,423.2 912.5,433.2 918.0,434.5 925.0,429.5 932.5,423.8 938.8,419.5 943.7,416.5" fill="none" stroke="#111" stroke-width="1.65" stroke-linejoin="round"/>
<polygon points="901.0,501.8 902.5,502.5 912.5,503.2 914.0,501.8" fill="#e0788a"/>
<polyline points="856.0,487.0 858.8,485.8 863.8,490.8 868.8,493.8 873.7,488.2 880.0,493.2 888.8,498.2 896.2,500.0 902.5,502.5 912.5,503.2 917.5,500.8 923.8,493.8 930.0,493.2 933.8,492.5 938.8,494.5 943.7,492.5" fill="none" stroke="#222" stroke-width="1.15" stroke-linejoin="round"/>
<polyline points="856.0,570.4 858.8,575.4 864.1,581.0 868.6,586.0 873.4,592.3 878.4,597.7 883.4,600.4 888.2,604.3 893.6,607.5 898.0,609.0 915.0,609.3 918.6,609.0 923.0,605.7 928.4,598.6 933.4,591.4 938.2,586.6 943.7,584.0" fill="none" stroke="#f01414" stroke-width="1.15" stroke-linejoin="round"/>
<polyline points="856.0,579.3 864.1,582.5 868.6,590.5 873.4,599.1 878.4,601.2 883.4,601.2 888.2,609.3 913.2,609.3 918.0,607.5 923.0,601.2 928.4,591.4 933.4,584.6 938.2,584.3 943.7,582.5" fill="none" stroke="#111" stroke-width="1.65" stroke-linejoin="round"/>
<rect x="855.5" y="355.5" width="95.0" height="261.0" fill="none" stroke="#b0b0b0"/>
<path d="M858.5 617v1 M863.5 617v1 M868.5 617v1 M873.5 617v1 M878.5 617v1 M883.5 617v1 M888.5 617v1 M893.5 617v1 M898.5 617v1 M903.5 617v1 M908.5 617v1 M913.5 617v1 M918.5 617v1 M923.5 617v1 M928.5 617v1 M933.5 617v1 M938.5 617v1 M943.5 617v1" stroke="#b8b8b8" stroke-width="1" fill="none"/>
<path d="M858.5 354v1 M863.5 354v1 M868.5 354v1 M873.5 354v1 M878.5 354v1 M883.5 354v1 M888.5 354v1 M893.5 354v1 M898.5 354v1 M903.5 354v1 M908.5 354v1 M913.5 354v1 M918.5 354v1 M923.5 354v1 M928.5 354v1 M933.5 354v1 M938.5 354v1 M943.5 354v1" stroke="#b8b8b8" stroke-width="1" fill="none"/>
<text x="857.80" y="626.80" font-family='"Liberation Sans", Arial, Helvetica, sans-serif' font-size="10" textLength="10.90" lengthAdjust="spacingAndGlyphs">15</text>
<text x="882.20" y="626.80" font-family='"Liberation Sans", Arial, Helvetica, sans-serif' font-size="10" textLength="10.90" lengthAdjust="spacingAndGlyphs">22</text>
<text x="907.00" y="626.80" font-family='"Liberation Sans", Arial, Helvetica, sans-serif' font-size="10" textLength="10.90" lengthAdjust="spacingAndGlyphs">29</text>
<text x="919.30" y="627.00" font-family='"Liberation Sans", Arial, Helvetica, sans-serif' font-size="11" font-weight="bold" textLength="21.30" lengthAdjust="spacingAndGlyphs">Aug</text>
<line x1="950.5" y1="365.5" x2="953.0" y2="365.5" stroke="#b0b0b0" stroke-width="1"/>
<text x="955.00" y="368.10" font-family='"Liberation Sans", Arial, Helvetica, sans-serif' font-size="10" textLength="26.50" lengthAdjust="spacingAndGlyphs">0.000</text>
<line x1="950.5" y1="377.5" x2="953.0" y2="377.5" stroke="#b0b0b0" stroke-width="1"/>
<text x="951.50" y="380.10" font-family='"Liberation Sans", Arial, Helvetica, sans-serif' font-size="10" textLength="30.00" lengthAdjust="spacingAndGlyphs">-0.001</text>
<line x1="950.5" y1="389.5" x2="953.0" y2="389.5" stroke="#b0b0b0" stroke-width="1"/>
<text x="951.50" y="392.10" font-family='"Liberation Sans", Arial, Helvetica, sans-serif' font-size="10" textLength="30.00" lengthAdjust="spacingAndGlyphs">-0.002</text>
<line x1="950.5" y1="401.5" x2="953.0" y2="401.5" stroke="#b0b0b0" stroke-width="1"/>
<text x="951.50" y="404.10" font-family='"Liberation Sans", Arial, Helvetica, sans-serif' font-size="10" textLength="30.00" lengthAdjust="spacingAndGlyphs">-0.003</text>
<line x1="950.5" y1="413.5" x2="953.0" y2="413.5" stroke="#b0b0b0" stroke-width="1"/>
<line x1="950.5" y1="425.5" x2="953.0" y2="425.5" stroke="#b0b0b0" stroke-width="1"/>
<text x="951.50" y="428.10" font-family='"Liberation Sans", Arial, Helvetica, sans-serif' font-size="10" textLength="30.00" lengthAdjust="spacingAndGlyphs">-0.005</text>
<line x1="950.5" y1="437.5" x2="953.0" y2="437.5" stroke="#b0b0b0" stroke-width="1"/>
<text x="951.50" y="440.10" font-family='"Liberation Sans", Arial, Helvetica, sans-serif' font-size="10" textLength="30.00" lengthAdjust="spacingAndGlyphs">-0.006</text>
<line x1="950.5" y1="456.5" x2="953.0" y2="456.5" stroke="#b0b0b0" stroke-width="1"/>
<text x="953.80" y="459.10" font-family='"Liberation Sans", Arial, Helvetica, sans-serif' font-size="10" textLength="12.30" lengthAdjust="spacingAndGlyphs">90</text>
<line x1="950.5" y1="471.5" x2="953.0" y2="471.5" stroke="#b0b0b0" stroke-width="1"/>
<text x="953.80" y="474.10" font-family='"Liberation Sans", Arial, Helvetica, sans-serif' font-size="10" textLength="12.30" lengthAdjust="spacingAndGlyphs">70</text>
<line x1="950.5" y1="486.5" x2="953.0" y2="486.5" stroke="#b0b0b0" stroke-width="1"/>
<text x="953.80" y="489.10" font-family='"Liberation Sans", Arial, Helvetica, sans-serif' font-size="10" textLength="12.30" lengthAdjust="spacingAndGlyphs">50</text>
<line x1="950.5" y1="501.5" x2="953.0" y2="501.5" stroke="#b0b0b0" stroke-width="1"/>
<text x="953.80" y="504.10" font-family='"Liberation Sans", Arial, Helvetica, sans-serif' font-size="10" textLength="12.30" lengthAdjust="spacingAndGlyphs">30</text>
<line x1="950.5" y1="516.5" x2="953.0" y2="516.5" stroke="#b0b0b0" stroke-width="1"/>
<text x="953.80" y="519.10" font-family='"Liberation Sans", Arial, Helvetica, sans-serif' font-size="10" textLength="12.30" lengthAdjust="spacingAndGlyphs">10</text>
<line x1="950.5" y1="551.5" x2="953.0" y2="551.5" stroke="#b0b0b0" stroke-width="1"/>
<text x="953.80" y="554.10" font-family='"Liberation Sans", Arial, Helvetica, sans-serif' font-size="10" textLength="12.30" lengthAdjust="spacingAndGlyphs">80</text>
<line x1="950.5" y1="573.5" x2="953.0" y2="573.5" stroke="#b0b0b0" stroke-width="1"/>
<text x="953.80" y="576.10" font-family='"Liberation Sans", Arial, Helvetica, sans-serif' font-size="10" textLength="12.30" lengthAdjust="spacingAndGlyphs">50</text>
<line x1="950.5" y1="595.5" x2="953.0" y2="595.5" stroke="#b0b0b0" stroke-width="1"/>
<text x="953.80" y="598.10" font-family='"Liberation Sans", Arial, Helvetica, sans-serif' font-size="10" textLength="12.30" lengthAdjust="spacingAndGlyphs">20</text>
<path d="M948.0 361.6l4.5-4.9h28.9v9.8h-28.9z" fill="#fff" stroke="#3f74b0" stroke-width="1.1" stroke-linejoin="miter"/>
<text x="953.00" y="365.25" font-family='"Liberation Sans", Arial, Helvetica, sans-serif' font-size="10" textLength="26.00" lengthAdjust="spacingAndGlyphs">0.000</text>
<path d="M948.0 418.0l4.5-4.9h32v9.8h-32z" fill="#fff" stroke="#f01414" stroke-width="1.1" stroke-linejoin="miter"/>
<text x="953.00" y="421.65" font-family='"Liberation Sans", Arial, Helvetica, sans-serif' font-size="10" textLength="29.50" lengthAdjust="spacingAndGlyphs">-0.004</text>
<path d="M948.0 415.4l4.5-4.9h32v9.8h-32z" fill="#fff" stroke="#111" stroke-width="1.1" stroke-linejoin="miter"/>
<text x="953.00" y="419.05" font-family='"Liberation Sans", Arial, Helvetica, sans-serif' font-size="10" textLength="29.50" lengthAdjust="spacingAndGlyphs">-0.004</text>
<path d="M948.0 491.6l4.5-4.9h28.9v9.8h-28.9z" fill="#fff" stroke="#111" stroke-width="1.1" stroke-linejoin="miter"/>
<text x="953.00" y="495.25" font-family='"Liberation Sans", Arial, Helvetica, sans-serif' font-size="10" textLength="26.00" lengthAdjust="spacingAndGlyphs">42.07</text>
<path d="M948.0 583.7l4.5-4.9h28.9v9.8h-28.9z" fill="#fff" stroke="#f01414" stroke-width="1.1" stroke-linejoin="miter"/>
<text x="953.00" y="587.35" font-family='"Liberation Sans", Arial, Helvetica, sans-serif' font-size="10" textLength="26.00" lengthAdjust="spacingAndGlyphs">35.60</text>
<path d="M948.0 581.6l4.5-4.9h28.9v9.8h-28.9z" fill="#fff" stroke="#111" stroke-width="1.1" stroke-linejoin="miter"/>
<text x="953.00" y="585.25" font-family='"Liberation Sans", Arial, Helvetica, sans-serif' font-size="10" textLength="26.00" lengthAdjust="spacingAndGlyphs">37.94</text>
</svg>
</body></html>
